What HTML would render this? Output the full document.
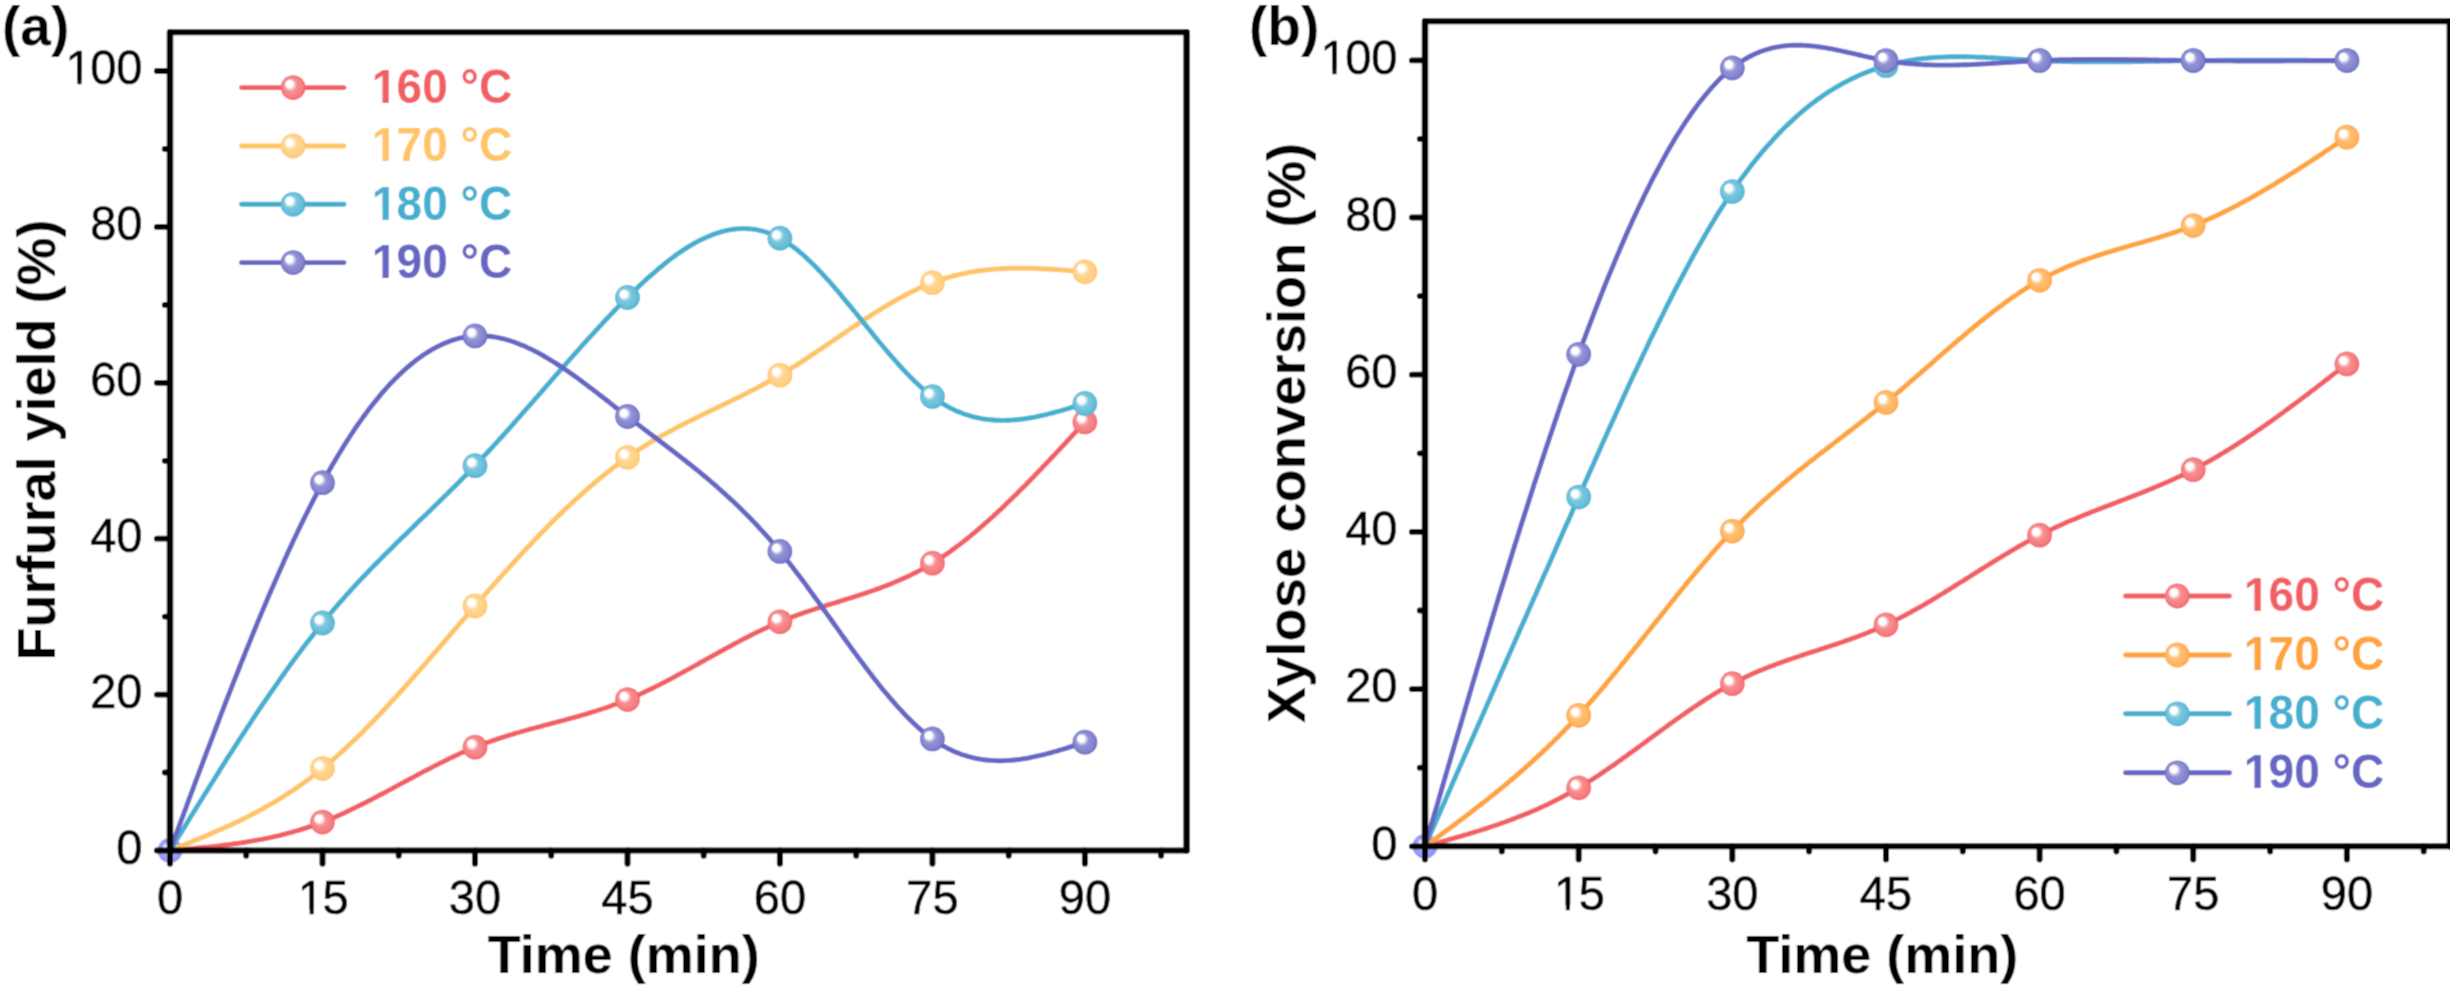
<!DOCTYPE html><html><head><meta charset="utf-8"><style>html,body{margin:0;padding:0;background:#fff;}svg{display:block}</style></head><body><div id="wrap">
<svg width="2450" height="987" viewBox="0 0 2450 987" font-family='"Liberation Sans", sans-serif'>
<filter id="bl" x="0" y="0" width="2450" height="987" filterUnits="userSpaceOnUse"><feConvolveMatrix order="3" kernelMatrix="0.0437 0.1216 0.0437 0.1216 0.3387 0.1216 0.0437 0.1216 0.0437" edgeMode="duplicate"/></filter><g filter="url(#bl)">
<rect width="2450" height="987" fill="#fff"/>
<defs>
<radialGradient id="gAred" cx="50%" cy="50%" r="50%" fx="29%" fy="30%"><stop offset="0" stop-color="#fff"/><stop offset="0.28" stop-color="#fff"/><stop offset="0.5" stop-color="#f68f92"/><stop offset="0.86" stop-color="#f47c7f"/><stop offset="1" stop-color="#F25F63"/></radialGradient>
<radialGradient id="gAyel" cx="50%" cy="50%" r="50%" fx="29%" fy="30%"><stop offset="0" stop-color="#fff"/><stop offset="0.28" stop-color="#fff"/><stop offset="0.5" stop-color="#ffd694"/><stop offset="0.86" stop-color="#ffcf82"/><stop offset="1" stop-color="#FFC466"/></radialGradient>
<radialGradient id="gAcya" cx="50%" cy="50%" r="50%" fx="29%" fy="30%"><stop offset="0" stop-color="#fff"/><stop offset="0.28" stop-color="#fff"/><stop offset="0.5" stop-color="#7dc7de"/><stop offset="0.86" stop-color="#66bdd8"/><stop offset="1" stop-color="#45AFD0"/></radialGradient>
<radialGradient id="gApur" cx="50%" cy="50%" r="50%" fx="29%" fy="30%"><stop offset="0" stop-color="#fff"/><stop offset="0.28" stop-color="#fff"/><stop offset="0.5" stop-color="#9494d6"/><stop offset="0.86" stop-color="#8282cf"/><stop offset="1" stop-color="#6666C4"/></radialGradient>
<radialGradient id="gBred" cx="50%" cy="50%" r="50%" fx="29%" fy="30%"><stop offset="0" stop-color="#fff"/><stop offset="0.28" stop-color="#fff"/><stop offset="0.5" stop-color="#f68f92"/><stop offset="0.86" stop-color="#f47c7f"/><stop offset="1" stop-color="#F25F63"/></radialGradient>
<radialGradient id="gByel" cx="50%" cy="50%" r="50%" fx="29%" fy="30%"><stop offset="0" stop-color="#fff"/><stop offset="0.28" stop-color="#fff"/><stop offset="0.5" stop-color="#ffbf75"/><stop offset="0.86" stop-color="#ffb45d"/><stop offset="1" stop-color="#FFA33A"/></radialGradient>
<radialGradient id="gBcya" cx="50%" cy="50%" r="50%" fx="29%" fy="30%"><stop offset="0" stop-color="#fff"/><stop offset="0.28" stop-color="#fff"/><stop offset="0.5" stop-color="#7dc7de"/><stop offset="0.86" stop-color="#66bdd8"/><stop offset="1" stop-color="#45AFD0"/></radialGradient>
<radialGradient id="gBpur" cx="50%" cy="50%" r="50%" fx="29%" fy="30%"><stop offset="0" stop-color="#fff"/><stop offset="0.28" stop-color="#fff"/><stop offset="0.5" stop-color="#9494d6"/><stop offset="0.86" stop-color="#8282cf"/><stop offset="1" stop-color="#6666C4"/></radialGradient>
<radialGradient id="gorig" cx="50%" cy="50%" r="50%" fx="36%" fy="35%"><stop offset="0" stop-color="#fff"/><stop offset="0.22" stop-color="#fff"/><stop offset="0.5" stop-color="#a4a6fa"/><stop offset="1" stop-color="#8e90f2"/></radialGradient>
</defs>
<circle cx="170.0" cy="850.5" r="12.4" fill="url(#gorig)"/>
<path d="M 170.0 850.5 L 172.3 850.3 L 174.6 850.1 L 176.9 849.9 L 179.2 849.7 L 181.5 849.5 L 183.8 849.3 L 186.1 849.1 L 188.3 848.9 L 190.6 848.7 L 192.9 848.5 L 195.2 848.2 L 197.5 848.0 L 199.8 847.8 L 202.1 847.6 L 204.4 847.3 L 206.7 847.1 L 209.0 846.9 L 211.3 846.6 L 213.6 846.4 L 215.9 846.1 L 218.2 845.9 L 220.4 845.6 L 222.7 845.3 L 225.0 845.0 L 227.3 844.7 L 229.6 844.4 L 231.9 844.1 L 234.2 843.8 L 236.5 843.5 L 238.8 843.2 L 241.1 842.8 L 243.4 842.5 L 245.7 842.1 L 248.0 841.7 L 250.3 841.3 L 252.5 840.9 L 254.8 840.5 L 257.1 840.1 L 259.4 839.7 L 261.7 839.3 L 264.0 838.8 L 266.3 838.3 L 268.6 837.9 L 270.9 837.4 L 273.2 836.9 L 275.5 836.3 L 277.8 835.8 L 280.1 835.3 L 282.4 834.7 L 284.6 834.1 L 286.9 833.5 L 289.2 832.9 L 291.5 832.3 L 293.8 831.6 L 296.1 831.0 L 298.4 830.3 L 300.7 829.6 L 303.0 828.9 L 305.3 828.2 L 307.6 827.4 L 309.9 826.7 L 312.2 825.9 L 314.5 825.1 L 316.8 824.2 L 319.0 823.4 L 321.3 822.5 L 323.6 821.7 L 325.9 820.8 L 328.2 819.8 L 330.5 818.9 L 332.8 817.9 L 335.1 816.9 L 337.4 815.9 L 339.7 814.9 L 342.0 813.9 L 344.3 812.9 L 346.6 811.8 L 348.9 810.7 L 351.1 809.6 L 353.4 808.5 L 355.7 807.4 L 358.0 806.3 L 360.3 805.2 L 362.6 804.0 L 364.9 802.8 L 367.2 801.7 L 369.5 800.5 L 371.8 799.3 L 374.1 798.1 L 376.4 796.9 L 378.7 795.7 L 381.0 794.5 L 383.2 793.3 L 385.5 792.1 L 387.8 790.8 L 390.1 789.6 L 392.4 788.4 L 394.7 787.1 L 397.0 785.9 L 399.3 784.7 L 401.6 783.4 L 403.9 782.2 L 406.2 781.0 L 408.5 779.7 L 410.8 778.5 L 413.1 777.3 L 415.3 776.0 L 417.6 774.8 L 419.9 773.6 L 422.2 772.4 L 424.5 771.2 L 426.8 770.0 L 429.1 768.8 L 431.4 767.6 L 433.7 766.4 L 436.0 765.2 L 438.3 764.1 L 440.6 762.9 L 442.9 761.8 L 445.2 760.6 L 447.5 759.5 L 449.7 758.4 L 452.0 757.3 L 454.3 756.2 L 456.6 755.2 L 458.9 754.1 L 461.2 753.1 L 463.5 752.1 L 465.8 751.0 L 468.1 750.1 L 470.4 749.1 L 472.7 748.1 L 475.0 747.2 L 477.3 746.3 L 479.6 745.4 L 481.8 744.5 L 484.1 743.7 L 486.4 742.8 L 488.7 742.0 L 491.0 741.2 L 493.3 740.4 L 495.6 739.6 L 497.9 738.8 L 500.2 738.1 L 502.5 737.3 L 504.8 736.6 L 507.1 735.9 L 509.4 735.2 L 511.7 734.5 L 513.9 733.8 L 516.2 733.1 L 518.5 732.5 L 520.8 731.8 L 523.1 731.2 L 525.4 730.5 L 527.7 729.9 L 530.0 729.2 L 532.3 728.6 L 534.6 728.0 L 536.9 727.4 L 539.2 726.8 L 541.5 726.2 L 543.8 725.5 L 546.0 724.9 L 548.3 724.3 L 550.6 723.7 L 552.9 723.1 L 555.2 722.5 L 557.5 721.9 L 559.8 721.3 L 562.1 720.7 L 564.4 720.1 L 566.7 719.4 L 569.0 718.8 L 571.3 718.2 L 573.6 717.6 L 575.9 716.9 L 578.2 716.3 L 580.4 715.6 L 582.7 714.9 L 585.0 714.3 L 587.3 713.6 L 589.6 712.9 L 591.9 712.2 L 594.2 711.5 L 596.5 710.8 L 598.8 710.0 L 601.1 709.3 L 603.4 708.5 L 605.7 707.8 L 608.0 707.0 L 610.3 706.2 L 612.5 705.3 L 614.8 704.5 L 617.1 703.7 L 619.4 702.8 L 621.7 701.9 L 624.0 701.0 L 626.3 700.1 L 628.6 699.1 L 630.9 698.2 L 633.2 697.2 L 635.5 696.2 L 637.8 695.2 L 640.1 694.1 L 642.4 693.1 L 644.6 692.0 L 646.9 690.9 L 649.2 689.8 L 651.5 688.7 L 653.8 687.6 L 656.1 686.4 L 658.4 685.3 L 660.7 684.1 L 663.0 682.9 L 665.3 681.7 L 667.6 680.5 L 669.9 679.3 L 672.2 678.1 L 674.5 676.9 L 676.7 675.6 L 679.0 674.4 L 681.3 673.2 L 683.6 671.9 L 685.9 670.6 L 688.2 669.4 L 690.5 668.1 L 692.8 666.8 L 695.1 665.6 L 697.4 664.3 L 699.7 663.0 L 702.0 661.7 L 704.3 660.5 L 706.6 659.2 L 708.9 657.9 L 711.1 656.6 L 713.4 655.3 L 715.7 654.1 L 718.0 652.8 L 720.3 651.5 L 722.6 650.3 L 724.9 649.0 L 727.2 647.8 L 729.5 646.5 L 731.8 645.3 L 734.1 644.0 L 736.4 642.8 L 738.7 641.6 L 741.0 640.4 L 743.2 639.2 L 745.5 638.0 L 747.8 636.8 L 750.1 635.7 L 752.4 634.5 L 754.7 633.4 L 757.0 632.2 L 759.3 631.1 L 761.6 630.0 L 763.9 628.9 L 766.2 627.9 L 768.5 626.8 L 770.8 625.8 L 773.1 624.7 L 775.3 623.7 L 777.6 622.8 L 779.9 621.8 L 782.2 620.9 L 784.5 619.9 L 786.8 619.0 L 789.1 618.1 L 791.4 617.3 L 793.7 616.4 L 796.0 615.6 L 798.3 614.7 L 800.6 613.9 L 802.9 613.1 L 805.2 612.3 L 807.4 611.5 L 809.7 610.8 L 812.0 610.0 L 814.3 609.3 L 816.6 608.5 L 818.9 607.8 L 821.2 607.1 L 823.5 606.3 L 825.8 605.6 L 828.1 604.9 L 830.4 604.2 L 832.7 603.5 L 835.0 602.8 L 837.3 602.1 L 839.6 601.4 L 841.8 600.7 L 844.1 599.9 L 846.4 599.2 L 848.7 598.5 L 851.0 597.8 L 853.3 597.1 L 855.6 596.3 L 857.9 595.6 L 860.2 594.9 L 862.5 594.1 L 864.8 593.3 L 867.1 592.6 L 869.4 591.8 L 871.7 591.0 L 873.9 590.2 L 876.2 589.4 L 878.5 588.6 L 880.8 587.7 L 883.1 586.8 L 885.4 586.0 L 887.7 585.1 L 890.0 584.2 L 892.3 583.2 L 894.6 582.3 L 896.9 581.3 L 899.2 580.3 L 901.5 579.3 L 903.8 578.3 L 906.0 577.2 L 908.3 576.2 L 910.6 575.1 L 912.9 573.9 L 915.2 572.8 L 917.5 571.6 L 919.8 570.4 L 922.1 569.1 L 924.4 567.9 L 926.7 566.6 L 929.0 565.3 L 931.3 563.9 L 933.6 562.5 L 935.9 561.1 L 938.1 559.6 L 940.4 558.1 L 942.7 556.6 L 945.0 555.1 L 947.3 553.5 L 949.6 551.9 L 951.9 550.2 L 954.2 548.5 L 956.5 546.8 L 958.8 545.1 L 961.1 543.4 L 963.4 541.6 L 965.7 539.8 L 968.0 537.9 L 970.3 536.1 L 972.5 534.2 L 974.8 532.3 L 977.1 530.4 L 979.4 528.4 L 981.7 526.4 L 984.0 524.4 L 986.3 522.4 L 988.6 520.4 L 990.9 518.3 L 993.2 516.2 L 995.5 514.1 L 997.8 512.0 L 1000.1 509.9 L 1002.4 507.7 L 1004.6 505.5 L 1006.9 503.3 L 1009.2 501.1 L 1011.5 498.9 L 1013.8 496.6 L 1016.1 494.4 L 1018.4 492.1 L 1020.7 489.8 L 1023.0 487.5 L 1025.3 485.2 L 1027.6 482.9 L 1029.9 480.5 L 1032.2 478.2 L 1034.5 475.8 L 1036.7 473.4 L 1039.0 471.0 L 1041.3 468.7 L 1043.6 466.2 L 1045.9 463.8 L 1048.2 461.4 L 1050.5 459.0 L 1052.8 456.5 L 1055.1 454.1 L 1057.4 451.6 L 1059.7 449.2 L 1062.0 446.7 L 1064.3 444.3 L 1066.6 441.8 L 1068.8 439.3 L 1071.1 436.8 L 1073.4 434.3 L 1075.7 431.9 L 1078.0 429.4 L 1080.3 426.9 L 1082.6 424.4 L 1084.9 421.9" fill="none" stroke="#F25F63" stroke-width="4.9" stroke-linejoin="round" stroke-linecap="round"/>
<circle cx="322.5" cy="822.1" r="12.4" fill="url(#gAred)"/>
<circle cx="475.0" cy="747.2" r="12.4" fill="url(#gAred)"/>
<circle cx="627.5" cy="699.6" r="12.4" fill="url(#gAred)"/>
<circle cx="779.9" cy="621.8" r="12.4" fill="url(#gAred)"/>
<circle cx="932.4" cy="563.2" r="12.4" fill="url(#gAred)"/>
<circle cx="1084.9" cy="421.9" r="12.4" fill="url(#gAred)"/>
<path d="M 170.0 850.5 L 172.3 849.6 L 174.6 848.7 L 176.9 847.8 L 179.2 846.8 L 181.5 845.9 L 183.8 845.0 L 186.1 844.1 L 188.3 843.1 L 190.6 842.2 L 192.9 841.3 L 195.2 840.3 L 197.5 839.4 L 199.8 838.4 L 202.1 837.5 L 204.4 836.5 L 206.7 835.6 L 209.0 834.6 L 211.3 833.6 L 213.6 832.6 L 215.9 831.6 L 218.2 830.6 L 220.4 829.6 L 222.7 828.6 L 225.0 827.5 L 227.3 826.5 L 229.6 825.4 L 231.9 824.4 L 234.2 823.3 L 236.5 822.2 L 238.8 821.1 L 241.1 820.0 L 243.4 818.9 L 245.7 817.7 L 248.0 816.6 L 250.3 815.4 L 252.5 814.2 L 254.8 813.0 L 257.1 811.8 L 259.4 810.5 L 261.7 809.3 L 264.0 808.0 L 266.3 806.7 L 268.6 805.4 L 270.9 804.1 L 273.2 802.8 L 275.5 801.4 L 277.8 800.0 L 280.1 798.6 L 282.4 797.2 L 284.6 795.7 L 286.9 794.3 L 289.2 792.8 L 291.5 791.3 L 293.8 789.8 L 296.1 788.2 L 298.4 786.6 L 300.7 785.0 L 303.0 783.4 L 305.3 781.7 L 307.6 780.1 L 309.9 778.4 L 312.2 776.6 L 314.5 774.9 L 316.8 773.1 L 319.0 771.3 L 321.3 769.4 L 323.6 767.6 L 325.9 765.7 L 328.2 763.7 L 330.5 761.8 L 332.8 759.8 L 335.1 757.8 L 337.4 755.8 L 339.7 753.7 L 342.0 751.6 L 344.3 749.5 L 346.6 747.4 L 348.9 745.2 L 351.1 743.1 L 353.4 740.9 L 355.7 738.7 L 358.0 736.4 L 360.3 734.2 L 362.6 731.9 L 364.9 729.6 L 367.2 727.3 L 369.5 724.9 L 371.8 722.6 L 374.1 720.2 L 376.4 717.8 L 378.7 715.4 L 381.0 713.0 L 383.2 710.5 L 385.5 708.1 L 387.8 705.6 L 390.1 703.1 L 392.4 700.6 L 394.7 698.1 L 397.0 695.6 L 399.3 693.0 L 401.6 690.5 L 403.9 687.9 L 406.2 685.4 L 408.5 682.8 L 410.8 680.2 L 413.1 677.6 L 415.3 675.0 L 417.6 672.4 L 419.9 669.8 L 422.2 667.1 L 424.5 664.5 L 426.8 661.9 L 429.1 659.2 L 431.4 656.6 L 433.7 653.9 L 436.0 651.3 L 438.3 648.6 L 440.6 645.9 L 442.9 643.3 L 445.2 640.6 L 447.5 637.9 L 449.7 635.3 L 452.0 632.6 L 454.3 629.9 L 456.6 627.3 L 458.9 624.6 L 461.2 621.9 L 463.5 619.3 L 465.8 616.6 L 468.1 613.9 L 470.4 611.3 L 472.7 608.6 L 475.0 606.0 L 477.3 603.4 L 479.6 600.7 L 481.8 598.1 L 484.1 595.5 L 486.4 592.9 L 488.7 590.3 L 491.0 587.7 L 493.3 585.1 L 495.6 582.5 L 497.9 579.9 L 500.2 577.3 L 502.5 574.8 L 504.8 572.2 L 507.1 569.7 L 509.4 567.2 L 511.7 564.6 L 513.9 562.1 L 516.2 559.6 L 518.5 557.1 L 520.8 554.7 L 523.1 552.2 L 525.4 549.7 L 527.7 547.3 L 530.0 544.9 L 532.3 542.5 L 534.6 540.1 L 536.9 537.7 L 539.2 535.3 L 541.5 532.9 L 543.8 530.6 L 546.0 528.2 L 548.3 525.9 L 550.6 523.6 L 552.9 521.3 L 555.2 519.1 L 557.5 516.8 L 559.8 514.6 L 562.1 512.3 L 564.4 510.1 L 566.7 507.9 L 569.0 505.8 L 571.3 503.6 L 573.6 501.5 L 575.9 499.4 L 578.2 497.3 L 580.4 495.2 L 582.7 493.1 L 585.0 491.1 L 587.3 489.1 L 589.6 487.1 L 591.9 485.1 L 594.2 483.1 L 596.5 481.2 L 598.8 479.3 L 601.1 477.4 L 603.4 475.5 L 605.7 473.7 L 608.0 471.8 L 610.3 470.0 L 612.5 468.3 L 614.8 466.5 L 617.1 464.8 L 619.4 463.1 L 621.7 461.4 L 624.0 459.7 L 626.3 458.1 L 628.6 456.5 L 630.9 454.9 L 633.2 453.4 L 635.5 451.8 L 637.8 450.3 L 640.1 448.8 L 642.4 447.4 L 644.6 445.9 L 646.9 444.5 L 649.2 443.1 L 651.5 441.7 L 653.8 440.4 L 656.1 439.0 L 658.4 437.7 L 660.7 436.4 L 663.0 435.1 L 665.3 433.8 L 667.6 432.6 L 669.9 431.3 L 672.2 430.1 L 674.5 428.8 L 676.7 427.6 L 679.0 426.4 L 681.3 425.3 L 683.6 424.1 L 685.9 422.9 L 688.2 421.7 L 690.5 420.6 L 692.8 419.5 L 695.1 418.3 L 697.4 417.2 L 699.7 416.1 L 702.0 414.9 L 704.3 413.8 L 706.6 412.7 L 708.9 411.6 L 711.1 410.5 L 713.4 409.4 L 715.7 408.3 L 718.0 407.2 L 720.3 406.1 L 722.6 405.0 L 724.9 403.9 L 727.2 402.8 L 729.5 401.7 L 731.8 400.6 L 734.1 399.4 L 736.4 398.3 L 738.7 397.2 L 741.0 396.1 L 743.2 394.9 L 745.5 393.8 L 747.8 392.6 L 750.1 391.4 L 752.4 390.3 L 754.7 389.1 L 757.0 387.9 L 759.3 386.7 L 761.6 385.5 L 763.9 384.2 L 766.2 383.0 L 768.5 381.7 L 770.8 380.5 L 773.1 379.2 L 775.3 377.9 L 777.6 376.5 L 779.9 375.2 L 782.2 373.8 L 784.5 372.5 L 786.8 371.1 L 789.1 369.7 L 791.4 368.2 L 793.7 366.8 L 796.0 365.4 L 798.3 363.9 L 800.6 362.4 L 802.9 360.9 L 805.2 359.4 L 807.4 357.9 L 809.7 356.4 L 812.0 354.9 L 814.3 353.4 L 816.6 351.8 L 818.9 350.3 L 821.2 348.7 L 823.5 347.2 L 825.8 345.6 L 828.1 344.1 L 830.4 342.5 L 832.7 341.0 L 835.0 339.4 L 837.3 337.8 L 839.6 336.3 L 841.8 334.7 L 844.1 333.1 L 846.4 331.6 L 848.7 330.0 L 851.0 328.5 L 853.3 327.0 L 855.6 325.4 L 857.9 323.9 L 860.2 322.4 L 862.5 320.9 L 864.8 319.4 L 867.1 317.9 L 869.4 316.4 L 871.7 314.9 L 873.9 313.4 L 876.2 312.0 L 878.5 310.6 L 880.8 309.2 L 883.1 307.7 L 885.4 306.4 L 887.7 305.0 L 890.0 303.6 L 892.3 302.3 L 894.6 301.0 L 896.9 299.7 L 899.2 298.4 L 901.5 297.2 L 903.8 295.9 L 906.0 294.7 L 908.3 293.5 L 910.6 292.4 L 912.9 291.2 L 915.2 290.1 L 917.5 289.0 L 919.8 288.0 L 922.1 287.0 L 924.4 286.0 L 926.7 285.0 L 929.0 284.1 L 931.3 283.1 L 933.6 282.3 L 935.9 281.4 L 938.1 280.6 L 940.4 279.8 L 942.7 279.1 L 945.0 278.3 L 947.3 277.7 L 949.6 277.0 L 951.9 276.4 L 954.2 275.7 L 956.5 275.2 L 958.8 274.6 L 961.1 274.1 L 963.4 273.6 L 965.7 273.1 L 968.0 272.7 L 970.3 272.2 L 972.5 271.8 L 974.8 271.5 L 977.1 271.1 L 979.4 270.8 L 981.7 270.5 L 984.0 270.2 L 986.3 269.9 L 988.6 269.7 L 990.9 269.5 L 993.2 269.3 L 995.5 269.1 L 997.8 268.9 L 1000.1 268.8 L 1002.4 268.6 L 1004.6 268.5 L 1006.9 268.4 L 1009.2 268.3 L 1011.5 268.3 L 1013.8 268.2 L 1016.1 268.2 L 1018.4 268.2 L 1020.7 268.2 L 1023.0 268.2 L 1025.3 268.2 L 1027.6 268.2 L 1029.9 268.3 L 1032.2 268.3 L 1034.5 268.4 L 1036.7 268.5 L 1039.0 268.6 L 1041.3 268.7 L 1043.6 268.8 L 1045.9 268.9 L 1048.2 269.0 L 1050.5 269.2 L 1052.8 269.3 L 1055.1 269.5 L 1057.4 269.6 L 1059.7 269.8 L 1062.0 270.0 L 1064.3 270.1 L 1066.6 270.3 L 1068.8 270.5 L 1071.1 270.7 L 1073.4 270.8 L 1075.7 271.0 L 1078.0 271.2 L 1080.3 271.4 L 1082.6 271.6 L 1084.9 271.8" fill="none" stroke="#FFC466" stroke-width="4.9" stroke-linejoin="round" stroke-linecap="round"/>
<circle cx="322.5" cy="768.5" r="12.4" fill="url(#gAyel)"/>
<circle cx="475.0" cy="606.0" r="12.4" fill="url(#gAyel)"/>
<circle cx="627.5" cy="457.3" r="12.4" fill="url(#gAyel)"/>
<circle cx="779.9" cy="375.2" r="12.4" fill="url(#gAyel)"/>
<circle cx="932.4" cy="282.7" r="12.4" fill="url(#gAyel)"/>
<circle cx="1084.9" cy="271.8" r="12.4" fill="url(#gAyel)"/>
<path d="M 170.0 850.5 L 172.3 846.8 L 174.6 843.0 L 176.9 839.3 L 179.2 835.6 L 181.5 831.9 L 183.8 828.2 L 186.1 824.4 L 188.3 820.7 L 190.6 817.0 L 192.9 813.3 L 195.2 809.6 L 197.5 805.9 L 199.8 802.2 L 202.1 798.5 L 204.4 794.8 L 206.7 791.1 L 209.0 787.5 L 211.3 783.8 L 213.6 780.2 L 215.9 776.5 L 218.2 772.9 L 220.4 769.2 L 222.7 765.6 L 225.0 762.0 L 227.3 758.4 L 229.6 754.8 L 231.9 751.2 L 234.2 747.7 L 236.5 744.1 L 238.8 740.5 L 241.1 737.0 L 243.4 733.5 L 245.7 730.0 L 248.0 726.5 L 250.3 723.0 L 252.5 719.5 L 254.8 716.1 L 257.1 712.7 L 259.4 709.2 L 261.7 705.8 L 264.0 702.4 L 266.3 699.1 L 268.6 695.7 L 270.9 692.4 L 273.2 689.1 L 275.5 685.8 L 277.8 682.5 L 280.1 679.2 L 282.4 676.0 L 284.6 672.8 L 286.9 669.6 L 289.2 666.4 L 291.5 663.3 L 293.8 660.1 L 296.1 657.0 L 298.4 653.9 L 300.7 650.9 L 303.0 647.8 L 305.3 644.8 L 307.6 641.8 L 309.9 638.9 L 312.2 635.9 L 314.5 633.0 L 316.8 630.1 L 319.0 627.2 L 321.3 624.4 L 323.6 621.6 L 325.9 618.8 L 328.2 616.1 L 330.5 613.3 L 332.8 610.6 L 335.1 608.0 L 337.4 605.3 L 339.7 602.7 L 342.0 600.1 L 344.3 597.5 L 346.6 594.9 L 348.9 592.4 L 351.1 589.8 L 353.4 587.3 L 355.7 584.9 L 358.0 582.4 L 360.3 579.9 L 362.6 577.5 L 364.9 575.1 L 367.2 572.7 L 369.5 570.3 L 371.8 567.9 L 374.1 565.6 L 376.4 563.2 L 378.7 560.9 L 381.0 558.6 L 383.2 556.3 L 385.5 554.0 L 387.8 551.7 L 390.1 549.4 L 392.4 547.2 L 394.7 544.9 L 397.0 542.6 L 399.3 540.4 L 401.6 538.1 L 403.9 535.9 L 406.2 533.7 L 408.5 531.4 L 410.8 529.2 L 413.1 527.0 L 415.3 524.8 L 417.6 522.6 L 419.9 520.3 L 422.2 518.1 L 424.5 515.9 L 426.8 513.7 L 429.1 511.5 L 431.4 509.3 L 433.7 507.0 L 436.0 504.8 L 438.3 502.6 L 440.6 500.3 L 442.9 498.1 L 445.2 495.8 L 447.5 493.6 L 449.7 491.3 L 452.0 489.0 L 454.3 486.7 L 456.6 484.5 L 458.9 482.2 L 461.2 479.8 L 463.5 477.5 L 465.8 475.2 L 468.1 472.8 L 470.4 470.5 L 472.7 468.1 L 475.0 465.7 L 477.3 463.3 L 479.6 460.9 L 481.8 458.4 L 484.1 456.0 L 486.4 453.5 L 488.7 451.0 L 491.0 448.6 L 493.3 446.1 L 495.6 443.6 L 497.9 441.0 L 500.2 438.5 L 502.5 436.0 L 504.8 433.4 L 507.1 430.8 L 509.4 428.3 L 511.7 425.7 L 513.9 423.1 L 516.2 420.5 L 518.5 417.9 L 520.8 415.3 L 523.1 412.7 L 525.4 410.1 L 527.7 407.5 L 530.0 404.9 L 532.3 402.3 L 534.6 399.7 L 536.9 397.0 L 539.2 394.4 L 541.5 391.8 L 543.8 389.1 L 546.0 386.5 L 548.3 383.9 L 550.6 381.3 L 552.9 378.6 L 555.2 376.0 L 557.5 373.4 L 559.8 370.8 L 562.1 368.2 L 564.4 365.6 L 566.7 363.0 L 569.0 360.4 L 571.3 357.8 L 573.6 355.2 L 575.9 352.6 L 578.2 350.0 L 580.4 347.5 L 582.7 344.9 L 585.0 342.4 L 587.3 339.8 L 589.6 337.3 L 591.9 334.8 L 594.2 332.3 L 596.5 329.8 L 598.8 327.3 L 601.1 324.8 L 603.4 322.4 L 605.7 319.9 L 608.0 317.5 L 610.3 315.1 L 612.5 312.7 L 614.8 310.3 L 617.1 307.9 L 619.4 305.6 L 621.7 303.3 L 624.0 300.9 L 626.3 298.6 L 628.6 296.4 L 630.9 294.1 L 633.2 291.9 L 635.5 289.6 L 637.8 287.4 L 640.1 285.3 L 642.4 283.1 L 644.6 281.0 L 646.9 278.9 L 649.2 276.8 L 651.5 274.8 L 653.8 272.8 L 656.1 270.8 L 658.4 268.9 L 660.7 267.0 L 663.0 265.1 L 665.3 263.2 L 667.6 261.4 L 669.9 259.6 L 672.2 257.9 L 674.5 256.2 L 676.7 254.6 L 679.0 252.9 L 681.3 251.4 L 683.6 249.8 L 685.9 248.4 L 688.2 246.9 L 690.5 245.5 L 692.8 244.2 L 695.1 242.9 L 697.4 241.6 L 699.7 240.4 L 702.0 239.3 L 704.3 238.2 L 706.6 237.1 L 708.9 236.2 L 711.1 235.2 L 713.4 234.4 L 715.7 233.5 L 718.0 232.8 L 720.3 232.1 L 722.6 231.4 L 724.9 230.9 L 727.2 230.3 L 729.5 229.9 L 731.8 229.5 L 734.1 229.2 L 736.4 228.9 L 738.7 228.8 L 741.0 228.6 L 743.2 228.6 L 745.5 228.6 L 747.8 228.7 L 750.1 228.9 L 752.4 229.1 L 754.7 229.4 L 757.0 229.8 L 759.3 230.3 L 761.6 230.9 L 763.9 231.5 L 766.2 232.2 L 768.5 233.0 L 770.8 233.9 L 773.1 234.8 L 775.3 235.9 L 777.6 237.0 L 779.9 238.2 L 782.2 239.5 L 784.5 240.9 L 786.8 242.4 L 789.1 243.9 L 791.4 245.5 L 793.7 247.2 L 796.0 249.0 L 798.3 250.8 L 800.6 252.8 L 802.9 254.7 L 805.2 256.8 L 807.4 258.9 L 809.7 261.0 L 812.0 263.2 L 814.3 265.5 L 816.6 267.8 L 818.9 270.2 L 821.2 272.6 L 823.5 275.1 L 825.8 277.6 L 828.1 280.1 L 830.4 282.7 L 832.7 285.3 L 835.0 288.0 L 837.3 290.6 L 839.6 293.3 L 841.8 296.1 L 844.1 298.8 L 846.4 301.6 L 848.7 304.4 L 851.0 307.1 L 853.3 310.0 L 855.6 312.8 L 857.9 315.6 L 860.2 318.4 L 862.5 321.3 L 864.8 324.1 L 867.1 327.0 L 869.4 329.8 L 871.7 332.6 L 873.9 335.4 L 876.2 338.2 L 878.5 341.0 L 880.8 343.8 L 883.1 346.5 L 885.4 349.3 L 887.7 352.0 L 890.0 354.7 L 892.3 357.3 L 894.6 359.9 L 896.9 362.5 L 899.2 365.1 L 901.5 367.6 L 903.8 370.1 L 906.0 372.5 L 908.3 374.9 L 910.6 377.2 L 912.9 379.5 L 915.2 381.8 L 917.5 383.9 L 919.8 386.1 L 922.1 388.1 L 924.4 390.1 L 926.7 392.1 L 929.0 393.9 L 931.3 395.7 L 933.6 397.5 L 935.9 399.1 L 938.1 400.7 L 940.4 402.2 L 942.7 403.6 L 945.0 405.0 L 947.3 406.3 L 949.6 407.6 L 951.9 408.7 L 954.2 409.9 L 956.5 410.9 L 958.8 411.9 L 961.1 412.8 L 963.4 413.7 L 965.7 414.5 L 968.0 415.2 L 970.3 415.9 L 972.5 416.6 L 974.8 417.2 L 977.1 417.7 L 979.4 418.2 L 981.7 418.6 L 984.0 419.0 L 986.3 419.3 L 988.6 419.6 L 990.9 419.8 L 993.2 420.0 L 995.5 420.2 L 997.8 420.3 L 1000.1 420.4 L 1002.4 420.4 L 1004.6 420.4 L 1006.9 420.3 L 1009.2 420.2 L 1011.5 420.1 L 1013.8 419.9 L 1016.1 419.7 L 1018.4 419.5 L 1020.7 419.2 L 1023.0 419.0 L 1025.3 418.6 L 1027.6 418.3 L 1029.9 417.9 L 1032.2 417.5 L 1034.5 417.1 L 1036.7 416.6 L 1039.0 416.1 L 1041.3 415.6 L 1043.6 415.1 L 1045.9 414.6 L 1048.2 414.0 L 1050.5 413.4 L 1052.8 412.8 L 1055.1 412.2 L 1057.4 411.6 L 1059.7 411.0 L 1062.0 410.3 L 1064.3 409.7 L 1066.6 409.0 L 1068.8 408.3 L 1071.1 407.6 L 1073.4 406.9 L 1075.7 406.2 L 1078.0 405.5 L 1080.3 404.8 L 1082.6 404.1 L 1084.9 403.4" fill="none" stroke="#45AFD0" stroke-width="4.9" stroke-linejoin="round" stroke-linecap="round"/>
<circle cx="322.5" cy="623.0" r="12.4" fill="url(#gAcya)"/>
<circle cx="475.0" cy="465.7" r="12.4" fill="url(#gAcya)"/>
<circle cx="627.5" cy="297.5" r="12.4" fill="url(#gAcya)"/>
<circle cx="779.9" cy="238.2" r="12.4" fill="url(#gAcya)"/>
<circle cx="932.4" cy="396.6" r="12.4" fill="url(#gAcya)"/>
<circle cx="1084.9" cy="403.4" r="12.4" fill="url(#gAcya)"/>
<path d="M 170.0 850.5 L 172.3 844.3 L 174.6 838.1 L 176.9 832.0 L 179.2 825.8 L 181.5 819.6 L 183.8 813.4 L 186.1 807.3 L 188.3 801.1 L 190.6 795.0 L 192.9 788.8 L 195.2 782.7 L 197.5 776.5 L 199.8 770.4 L 202.1 764.3 L 204.4 758.2 L 206.7 752.2 L 209.0 746.1 L 211.3 740.1 L 213.6 734.0 L 215.9 728.0 L 218.2 722.0 L 220.4 716.0 L 222.7 710.1 L 225.0 704.1 L 227.3 698.2 L 229.6 692.3 L 231.9 686.4 L 234.2 680.6 L 236.5 674.8 L 238.8 669.0 L 241.1 663.2 L 243.4 657.5 L 245.7 651.7 L 248.0 646.1 L 250.3 640.4 L 252.5 634.8 L 254.8 629.2 L 257.1 623.6 L 259.4 618.1 L 261.7 612.6 L 264.0 607.1 L 266.3 601.7 L 268.6 596.3 L 270.9 591.0 L 273.2 585.7 L 275.5 580.4 L 277.8 575.2 L 280.1 570.0 L 282.4 564.9 L 284.6 559.8 L 286.9 554.7 L 289.2 549.7 L 291.5 544.7 L 293.8 539.8 L 296.1 535.0 L 298.4 530.1 L 300.7 525.4 L 303.0 520.6 L 305.3 516.0 L 307.6 511.4 L 309.9 506.8 L 312.2 502.3 L 314.5 497.8 L 316.8 493.4 L 319.0 489.1 L 321.3 484.8 L 323.6 480.6 L 325.9 476.4 L 328.2 472.3 L 330.5 468.3 L 332.8 464.3 L 335.1 460.4 L 337.4 456.5 L 339.7 452.7 L 342.0 448.9 L 344.3 445.2 L 346.6 441.6 L 348.9 438.0 L 351.1 434.5 L 353.4 431.1 L 355.7 427.7 L 358.0 424.3 L 360.3 421.1 L 362.6 417.9 L 364.9 414.7 L 367.2 411.6 L 369.5 408.6 L 371.8 405.6 L 374.1 402.7 L 376.4 399.9 L 378.7 397.1 L 381.0 394.3 L 383.2 391.7 L 385.5 389.1 L 387.8 386.5 L 390.1 384.0 L 392.4 381.6 L 394.7 379.3 L 397.0 377.0 L 399.3 374.7 L 401.6 372.6 L 403.9 370.4 L 406.2 368.4 L 408.5 366.4 L 410.8 364.5 L 413.1 362.6 L 415.3 360.8 L 417.6 359.1 L 419.9 357.4 L 422.2 355.8 L 424.5 354.2 L 426.8 352.7 L 429.1 351.3 L 431.4 349.9 L 433.7 348.6 L 436.0 347.4 L 438.3 346.2 L 440.6 345.1 L 442.9 344.0 L 445.2 343.0 L 447.5 342.1 L 449.7 341.2 L 452.0 340.4 L 454.3 339.7 L 456.6 339.0 L 458.9 338.4 L 461.2 337.8 L 463.5 337.4 L 465.8 336.9 L 468.1 336.6 L 470.4 336.3 L 472.7 336.1 L 475.0 335.9 L 477.3 335.8 L 479.6 335.8 L 481.8 335.8 L 484.1 335.9 L 486.4 336.0 L 488.7 336.2 L 491.0 336.5 L 493.3 336.8 L 495.6 337.2 L 497.9 337.6 L 500.2 338.1 L 502.5 338.6 L 504.8 339.2 L 507.1 339.8 L 509.4 340.5 L 511.7 341.3 L 513.9 342.0 L 516.2 342.9 L 518.5 343.7 L 520.8 344.7 L 523.1 345.6 L 525.4 346.6 L 527.7 347.7 L 530.0 348.7 L 532.3 349.9 L 534.6 351.0 L 536.9 352.2 L 539.2 353.4 L 541.5 354.7 L 543.8 356.0 L 546.0 357.3 L 548.3 358.7 L 550.6 360.1 L 552.9 361.5 L 555.2 362.9 L 557.5 364.4 L 559.8 365.9 L 562.1 367.4 L 564.4 368.9 L 566.7 370.5 L 569.0 372.1 L 571.3 373.7 L 573.6 375.3 L 575.9 377.0 L 578.2 378.6 L 580.4 380.3 L 582.7 382.0 L 585.0 383.7 L 587.3 385.4 L 589.6 387.2 L 591.9 388.9 L 594.2 390.7 L 596.5 392.4 L 598.8 394.2 L 601.1 396.0 L 603.4 397.8 L 605.7 399.5 L 608.0 401.3 L 610.3 403.1 L 612.5 404.9 L 614.8 406.7 L 617.1 408.5 L 619.4 410.3 L 621.7 412.1 L 624.0 413.8 L 626.3 415.6 L 628.6 417.4 L 630.9 419.1 L 633.2 420.9 L 635.5 422.6 L 637.8 424.4 L 640.1 426.1 L 642.4 427.9 L 644.6 429.6 L 646.9 431.3 L 649.2 433.1 L 651.5 434.8 L 653.8 436.5 L 656.1 438.3 L 658.4 440.0 L 660.7 441.7 L 663.0 443.5 L 665.3 445.2 L 667.6 447.0 L 669.9 448.7 L 672.2 450.5 L 674.5 452.2 L 676.7 454.0 L 679.0 455.8 L 681.3 457.6 L 683.6 459.3 L 685.9 461.1 L 688.2 463.0 L 690.5 464.8 L 692.8 466.6 L 695.1 468.5 L 697.4 470.3 L 699.7 472.2 L 702.0 474.1 L 704.3 476.0 L 706.6 477.9 L 708.9 479.8 L 711.1 481.8 L 713.4 483.7 L 715.7 485.7 L 718.0 487.7 L 720.3 489.8 L 722.6 491.8 L 724.9 493.9 L 727.2 496.0 L 729.5 498.1 L 731.8 500.2 L 734.1 502.3 L 736.4 504.5 L 738.7 506.7 L 741.0 509.0 L 743.2 511.2 L 745.5 513.5 L 747.8 515.8 L 750.1 518.1 L 752.4 520.5 L 754.7 522.9 L 757.0 525.3 L 759.3 527.8 L 761.6 530.3 L 763.9 532.8 L 766.2 535.4 L 768.5 537.9 L 770.8 540.6 L 773.1 543.2 L 775.3 545.9 L 777.6 548.6 L 779.9 551.4 L 782.2 554.2 L 784.5 557.0 L 786.8 559.9 L 789.1 562.8 L 791.4 565.8 L 793.7 568.7 L 796.0 571.7 L 798.3 574.7 L 800.6 577.8 L 802.9 580.8 L 805.2 583.9 L 807.4 587.0 L 809.7 590.2 L 812.0 593.3 L 814.3 596.5 L 816.6 599.6 L 818.9 602.8 L 821.2 606.0 L 823.5 609.2 L 825.8 612.4 L 828.1 615.6 L 830.4 618.8 L 832.7 622.0 L 835.0 625.2 L 837.3 628.4 L 839.6 631.6 L 841.8 634.8 L 844.1 638.0 L 846.4 641.2 L 848.7 644.4 L 851.0 647.6 L 853.3 650.7 L 855.6 653.9 L 857.9 657.0 L 860.2 660.1 L 862.5 663.1 L 864.8 666.2 L 867.1 669.2 L 869.4 672.3 L 871.7 675.2 L 873.9 678.2 L 876.2 681.1 L 878.5 684.0 L 880.8 686.9 L 883.1 689.7 L 885.4 692.5 L 887.7 695.2 L 890.0 697.9 L 892.3 700.6 L 894.6 703.2 L 896.9 705.8 L 899.2 708.4 L 901.5 710.8 L 903.8 713.3 L 906.0 715.7 L 908.3 718.0 L 910.6 720.3 L 912.9 722.5 L 915.2 724.7 L 917.5 726.8 L 919.8 728.8 L 922.1 730.8 L 924.4 732.7 L 926.7 734.6 L 929.0 736.4 L 931.3 738.1 L 933.6 739.7 L 935.9 741.3 L 938.1 742.8 L 940.4 744.2 L 942.7 745.6 L 945.0 746.9 L 947.3 748.1 L 949.6 749.3 L 951.9 750.4 L 954.2 751.4 L 956.5 752.4 L 958.8 753.3 L 961.1 754.2 L 963.4 755.0 L 965.7 755.7 L 968.0 756.4 L 970.3 757.0 L 972.5 757.6 L 974.8 758.1 L 977.1 758.6 L 979.4 759.0 L 981.7 759.4 L 984.0 759.7 L 986.3 760.0 L 988.6 760.2 L 990.9 760.4 L 993.2 760.5 L 995.5 760.6 L 997.8 760.7 L 1000.1 760.7 L 1002.4 760.7 L 1004.6 760.6 L 1006.9 760.5 L 1009.2 760.4 L 1011.5 760.2 L 1013.8 760.0 L 1016.1 759.7 L 1018.4 759.5 L 1020.7 759.2 L 1023.0 758.8 L 1025.3 758.5 L 1027.6 758.1 L 1029.9 757.6 L 1032.2 757.2 L 1034.5 756.7 L 1036.7 756.2 L 1039.0 755.7 L 1041.3 755.2 L 1043.6 754.6 L 1045.9 754.0 L 1048.2 753.4 L 1050.5 752.8 L 1052.8 752.2 L 1055.1 751.5 L 1057.4 750.9 L 1059.7 750.2 L 1062.0 749.5 L 1064.3 748.8 L 1066.6 748.1 L 1068.8 747.4 L 1071.1 746.6 L 1073.4 745.9 L 1075.7 745.2 L 1078.0 744.4 L 1080.3 743.7 L 1082.6 742.9 L 1084.9 742.2" fill="none" stroke="#6666C4" stroke-width="4.9" stroke-linejoin="round" stroke-linecap="round"/>
<circle cx="322.5" cy="482.7" r="12.4" fill="url(#gApur)"/>
<circle cx="475.0" cy="335.9" r="12.4" fill="url(#gApur)"/>
<circle cx="627.5" cy="416.5" r="12.4" fill="url(#gApur)"/>
<circle cx="779.9" cy="551.4" r="12.4" fill="url(#gApur)"/>
<circle cx="932.4" cy="738.9" r="12.4" fill="url(#gApur)"/>
<circle cx="1084.9" cy="742.2" r="12.4" fill="url(#gApur)"/>
<path d="M 170 32.3 H 1186.6 M 170 850.5 H 1186.6" fill="none" stroke="#000" stroke-width="6.0" stroke-linecap="round"/>
<path d="M 170 32.3 V 850.5 M 1186.6 32.3 V 850.5" fill="none" stroke="#000" stroke-width="6.5" stroke-linecap="round"/>
<path d="M 170.0 850.5 V 863.7 M 246.2 850.5 V 855.8 M 322.5 850.5 V 863.7 M 398.7 850.5 V 855.8 M 475.0 850.5 V 863.7 M 551.2 850.5 V 855.8 M 627.5 850.5 V 863.7 M 703.7 850.5 V 855.8 M 779.9 850.5 V 863.7 M 856.2 850.5 V 855.8 M 932.4 850.5 V 863.7 M 1008.7 850.5 V 855.8 M 1084.9 850.5 V 863.7 M 1161.1 850.5 V 855.8" stroke="#000" stroke-width="6.0" stroke-linecap="round" fill="none"/>
<path d="M 170.0 850.5 H 156.8 M 170.0 772.5 H 164.7 M 170.0 694.6 H 156.8 M 170.0 616.6 H 164.7 M 170.0 538.7 H 156.8 M 170.0 460.8 H 164.7 M 170.0 382.8 H 156.8 M 170.0 304.9 H 164.7 M 170.0 226.9 H 156.8 M 170.0 149.0 H 164.7 M 170.0 71.0 H 156.8" stroke="#000" stroke-width="5.8" stroke-linecap="round" fill="none"/>
<g font-size="47" fill="#000" stroke="#000" stroke-width="0.6"><text transform="translate(156.93,914.0) scale(1,1.032)">0</text><text transform="translate(296.34,914.0) scale(1,1.032)" clip-path="url(#c0)"><tspan dx="1.5">1</tspan><tspan dx="-1.5">5</tspan></text><text transform="translate(448.83,914.0) scale(1,1.032)">30</text><text transform="translate(601.31,914.0) scale(1,1.032)">45</text><text transform="translate(753.79,914.0) scale(1,1.032)">60</text><text transform="translate(906.28,914.0) scale(1,1.032)">75</text><text transform="translate(1058.76,914.0) scale(1,1.032)">90</text><text transform="translate(116.36,863.8) scale(1,1.032)">0</text><text transform="translate(90.22,707.9) scale(1,1.032)">20</text><text transform="translate(90.22,552.0) scale(1,1.032)">40</text><text transform="translate(90.22,396.1) scale(1,1.032)">60</text><text transform="translate(90.22,240.2) scale(1,1.032)">80</text><text transform="translate(64.08,84.3) scale(1,1.032)" clip-path="url(#c1)"><tspan dx="1.5">1</tspan><tspan dx="-1.5">00</tspan></text></g>
<circle cx="1425.0" cy="846.3" r="12.4" fill="url(#gorig)"/>
<path d="M 1425.0 846.3 L 1427.3 845.7 L 1429.6 845.0 L 1431.9 844.4 L 1434.2 843.8 L 1436.6 843.1 L 1438.9 842.5 L 1441.2 841.8 L 1443.5 841.2 L 1445.8 840.5 L 1448.1 839.9 L 1450.4 839.2 L 1452.7 838.6 L 1455.0 837.9 L 1457.3 837.2 L 1459.7 836.6 L 1462.0 835.9 L 1464.3 835.2 L 1466.6 834.5 L 1468.9 833.8 L 1471.2 833.1 L 1473.5 832.4 L 1475.8 831.7 L 1478.1 831.0 L 1480.5 830.3 L 1482.8 829.5 L 1485.1 828.8 L 1487.4 828.1 L 1489.7 827.3 L 1492.0 826.5 L 1494.3 825.7 L 1496.6 825.0 L 1498.9 824.2 L 1501.2 823.3 L 1503.6 822.5 L 1505.9 821.7 L 1508.2 820.8 L 1510.5 820.0 L 1512.8 819.1 L 1515.1 818.2 L 1517.4 817.3 L 1519.7 816.4 L 1522.0 815.5 L 1524.4 814.6 L 1526.7 813.6 L 1529.0 812.7 L 1531.3 811.7 L 1533.6 810.7 L 1535.9 809.7 L 1538.2 808.7 L 1540.5 807.6 L 1542.8 806.6 L 1545.1 805.5 L 1547.5 804.4 L 1549.8 803.3 L 1552.1 802.2 L 1554.4 801.0 L 1556.7 799.8 L 1559.0 798.7 L 1561.3 797.5 L 1563.6 796.2 L 1565.9 795.0 L 1568.3 793.7 L 1570.6 792.5 L 1572.9 791.2 L 1575.2 789.8 L 1577.5 788.5 L 1579.8 787.1 L 1582.1 785.7 L 1584.4 784.3 L 1586.7 782.9 L 1589.0 781.4 L 1591.4 780.0 L 1593.7 778.5 L 1596.0 777.0 L 1598.3 775.5 L 1600.6 773.9 L 1602.9 772.4 L 1605.2 770.8 L 1607.5 769.2 L 1609.8 767.6 L 1612.2 766.0 L 1614.5 764.4 L 1616.8 762.8 L 1619.1 761.1 L 1621.4 759.5 L 1623.7 757.8 L 1626.0 756.2 L 1628.3 754.5 L 1630.6 752.8 L 1632.9 751.1 L 1635.3 749.5 L 1637.6 747.8 L 1639.9 746.1 L 1642.2 744.4 L 1644.5 742.7 L 1646.8 741.0 L 1649.1 739.3 L 1651.4 737.6 L 1653.7 735.9 L 1656.1 734.2 L 1658.4 732.5 L 1660.7 730.8 L 1663.0 729.1 L 1665.3 727.4 L 1667.6 725.7 L 1669.9 724.0 L 1672.2 722.4 L 1674.5 720.7 L 1676.8 719.1 L 1679.2 717.4 L 1681.5 715.8 L 1683.8 714.2 L 1686.1 712.5 L 1688.4 710.9 L 1690.7 709.4 L 1693.0 707.8 L 1695.3 706.2 L 1697.6 704.7 L 1700.0 703.1 L 1702.3 701.6 L 1704.6 700.1 L 1706.9 698.6 L 1709.2 697.2 L 1711.5 695.7 L 1713.8 694.3 L 1716.1 692.9 L 1718.4 691.5 L 1720.7 690.2 L 1723.1 688.8 L 1725.4 687.5 L 1727.7 686.2 L 1730.0 684.9 L 1732.3 683.7 L 1734.6 682.5 L 1736.9 681.3 L 1739.2 680.1 L 1741.5 679.0 L 1743.9 677.9 L 1746.2 676.8 L 1748.5 675.7 L 1750.8 674.6 L 1753.1 673.6 L 1755.4 672.6 L 1757.7 671.6 L 1760.0 670.6 L 1762.3 669.7 L 1764.6 668.7 L 1767.0 667.8 L 1769.3 666.9 L 1771.6 666.0 L 1773.9 665.1 L 1776.2 664.3 L 1778.5 663.4 L 1780.8 662.6 L 1783.1 661.7 L 1785.4 660.9 L 1787.8 660.1 L 1790.1 659.3 L 1792.4 658.5 L 1794.7 657.7 L 1797.0 657.0 L 1799.3 656.2 L 1801.6 655.4 L 1803.9 654.6 L 1806.2 653.9 L 1808.5 653.1 L 1810.9 652.4 L 1813.2 651.6 L 1815.5 650.9 L 1817.8 650.1 L 1820.1 649.4 L 1822.4 648.6 L 1824.7 647.9 L 1827.0 647.1 L 1829.3 646.4 L 1831.7 645.6 L 1834.0 644.8 L 1836.3 644.1 L 1838.6 643.3 L 1840.9 642.5 L 1843.2 641.7 L 1845.5 640.9 L 1847.8 640.1 L 1850.1 639.3 L 1852.4 638.4 L 1854.8 637.6 L 1857.1 636.7 L 1859.4 635.9 L 1861.7 635.0 L 1864.0 634.1 L 1866.3 633.2 L 1868.6 632.3 L 1870.9 631.3 L 1873.2 630.4 L 1875.6 629.4 L 1877.9 628.4 L 1880.2 627.4 L 1882.5 626.4 L 1884.8 625.3 L 1887.1 624.3 L 1889.4 623.2 L 1891.7 622.1 L 1894.0 620.9 L 1896.3 619.8 L 1898.7 618.6 L 1901.0 617.4 L 1903.3 616.2 L 1905.6 615.0 L 1907.9 613.7 L 1910.2 612.5 L 1912.5 611.2 L 1914.8 609.9 L 1917.1 608.6 L 1919.5 607.3 L 1921.8 606.0 L 1924.1 604.6 L 1926.4 603.3 L 1928.7 601.9 L 1931.0 600.6 L 1933.3 599.2 L 1935.6 597.8 L 1937.9 596.4 L 1940.2 595.0 L 1942.6 593.6 L 1944.9 592.1 L 1947.2 590.7 L 1949.5 589.3 L 1951.8 587.8 L 1954.1 586.4 L 1956.4 584.9 L 1958.7 583.5 L 1961.0 582.0 L 1963.4 580.6 L 1965.7 579.1 L 1968.0 577.7 L 1970.3 576.2 L 1972.6 574.7 L 1974.9 573.3 L 1977.2 571.8 L 1979.5 570.4 L 1981.8 568.9 L 1984.1 567.5 L 1986.5 566.0 L 1988.8 564.6 L 1991.1 563.1 L 1993.4 561.7 L 1995.7 560.3 L 1998.0 558.9 L 2000.3 557.5 L 2002.6 556.1 L 2004.9 554.7 L 2007.3 553.3 L 2009.6 551.9 L 2011.9 550.5 L 2014.2 549.2 L 2016.5 547.8 L 2018.8 546.5 L 2021.1 545.2 L 2023.4 543.9 L 2025.7 542.6 L 2028.0 541.3 L 2030.4 540.1 L 2032.7 538.8 L 2035.0 537.6 L 2037.3 536.4 L 2039.6 535.2 L 2041.9 534.0 L 2044.2 532.9 L 2046.5 531.7 L 2048.8 530.6 L 2051.2 529.5 L 2053.5 528.4 L 2055.8 527.3 L 2058.1 526.3 L 2060.4 525.2 L 2062.7 524.2 L 2065.0 523.1 L 2067.3 522.1 L 2069.6 521.1 L 2071.9 520.1 L 2074.3 519.2 L 2076.6 518.2 L 2078.9 517.2 L 2081.2 516.3 L 2083.5 515.3 L 2085.8 514.4 L 2088.1 513.5 L 2090.4 512.6 L 2092.7 511.6 L 2095.1 510.7 L 2097.4 509.8 L 2099.7 508.9 L 2102.0 508.0 L 2104.3 507.1 L 2106.6 506.2 L 2108.9 505.4 L 2111.2 504.5 L 2113.5 503.6 L 2115.8 502.7 L 2118.2 501.8 L 2120.5 500.9 L 2122.8 500.0 L 2125.1 499.2 L 2127.4 498.3 L 2129.7 497.4 L 2132.0 496.5 L 2134.3 495.6 L 2136.6 494.7 L 2139.0 493.8 L 2141.3 492.9 L 2143.6 491.9 L 2145.9 491.0 L 2148.2 490.1 L 2150.5 489.1 L 2152.8 488.2 L 2155.1 487.2 L 2157.4 486.3 L 2159.7 485.3 L 2162.1 484.3 L 2164.4 483.3 L 2166.7 482.3 L 2169.0 481.3 L 2171.3 480.2 L 2173.6 479.2 L 2175.9 478.1 L 2178.2 477.1 L 2180.5 476.0 L 2182.9 474.9 L 2185.2 473.7 L 2187.5 472.6 L 2189.8 471.5 L 2192.1 470.3 L 2194.4 469.1 L 2196.7 467.9 L 2199.0 466.7 L 2201.3 465.4 L 2203.6 464.2 L 2206.0 462.9 L 2208.3 461.6 L 2210.6 460.3 L 2212.9 459.0 L 2215.2 457.6 L 2217.5 456.3 L 2219.8 454.9 L 2222.1 453.5 L 2224.4 452.1 L 2226.8 450.7 L 2229.1 449.3 L 2231.4 447.8 L 2233.7 446.4 L 2236.0 444.9 L 2238.3 443.4 L 2240.6 441.9 L 2242.9 440.4 L 2245.2 438.9 L 2247.5 437.4 L 2249.9 435.8 L 2252.2 434.3 L 2254.5 432.7 L 2256.8 431.1 L 2259.1 429.5 L 2261.4 427.9 L 2263.7 426.3 L 2266.0 424.7 L 2268.3 423.1 L 2270.7 421.4 L 2273.0 419.8 L 2275.3 418.1 L 2277.6 416.4 L 2279.9 414.8 L 2282.2 413.1 L 2284.5 411.4 L 2286.8 409.7 L 2289.1 408.0 L 2291.4 406.3 L 2293.8 404.6 L 2296.1 402.9 L 2298.4 401.1 L 2300.7 399.4 L 2303.0 397.6 L 2305.3 395.9 L 2307.6 394.2 L 2309.9 392.4 L 2312.2 390.6 L 2314.6 388.9 L 2316.9 387.1 L 2319.2 385.3 L 2321.5 383.6 L 2323.8 381.8 L 2326.1 380.0 L 2328.4 378.2 L 2330.7 376.4 L 2333.0 374.6 L 2335.3 372.9 L 2337.7 371.1 L 2340.0 369.3 L 2342.3 367.5 L 2344.6 365.7 L 2346.9 363.9" fill="none" stroke="#F25F63" stroke-width="4.9" stroke-linejoin="round" stroke-linecap="round"/>
<circle cx="1578.7" cy="787.8" r="12.4" fill="url(#gBred)"/>
<circle cx="1732.3" cy="683.7" r="12.4" fill="url(#gBred)"/>
<circle cx="1886.0" cy="624.8" r="12.4" fill="url(#gBred)"/>
<circle cx="2039.6" cy="535.2" r="12.4" fill="url(#gBred)"/>
<circle cx="2193.2" cy="469.7" r="12.4" fill="url(#gBred)"/>
<circle cx="2346.9" cy="363.9" r="12.4" fill="url(#gBred)"/>
<path d="M 1425.0 846.3 L 1427.3 844.6 L 1429.6 842.9 L 1431.9 841.2 L 1434.2 839.5 L 1436.6 837.8 L 1438.9 836.1 L 1441.2 834.4 L 1443.5 832.7 L 1445.8 831.0 L 1448.1 829.3 L 1450.4 827.6 L 1452.7 825.9 L 1455.0 824.2 L 1457.3 822.4 L 1459.7 820.7 L 1462.0 819.0 L 1464.3 817.2 L 1466.6 815.5 L 1468.9 813.7 L 1471.2 812.0 L 1473.5 810.2 L 1475.8 808.4 L 1478.1 806.6 L 1480.5 804.8 L 1482.8 803.0 L 1485.1 801.2 L 1487.4 799.4 L 1489.7 797.6 L 1492.0 795.7 L 1494.3 793.9 L 1496.6 792.0 L 1498.9 790.1 L 1501.2 788.2 L 1503.6 786.3 L 1505.9 784.4 L 1508.2 782.5 L 1510.5 780.5 L 1512.8 778.6 L 1515.1 776.6 L 1517.4 774.6 L 1519.7 772.6 L 1522.0 770.6 L 1524.4 768.6 L 1526.7 766.5 L 1529.0 764.4 L 1531.3 762.4 L 1533.6 760.3 L 1535.9 758.1 L 1538.2 756.0 L 1540.5 753.9 L 1542.8 751.7 L 1545.1 749.5 L 1547.5 747.3 L 1549.8 745.0 L 1552.1 742.8 L 1554.4 740.5 L 1556.7 738.2 L 1559.0 735.9 L 1561.3 733.6 L 1563.6 731.2 L 1565.9 728.8 L 1568.3 726.4 L 1570.6 724.0 L 1572.9 721.5 L 1575.2 719.1 L 1577.5 716.6 L 1579.8 714.0 L 1582.1 711.5 L 1584.4 708.9 L 1586.7 706.3 L 1589.0 703.7 L 1591.4 701.0 L 1593.7 698.4 L 1596.0 695.7 L 1598.3 693.0 L 1600.6 690.3 L 1602.9 687.5 L 1605.2 684.8 L 1607.5 682.0 L 1609.8 679.2 L 1612.2 676.4 L 1614.5 673.6 L 1616.8 670.8 L 1619.1 668.0 L 1621.4 665.1 L 1623.7 662.3 L 1626.0 659.4 L 1628.3 656.5 L 1630.6 653.6 L 1632.9 650.7 L 1635.3 647.8 L 1637.6 644.9 L 1639.9 642.0 L 1642.2 639.1 L 1644.5 636.2 L 1646.8 633.3 L 1649.1 630.4 L 1651.4 627.4 L 1653.7 624.5 L 1656.1 621.6 L 1658.4 618.7 L 1660.7 615.8 L 1663.0 612.9 L 1665.3 610.0 L 1667.6 607.1 L 1669.9 604.2 L 1672.2 601.3 L 1674.5 598.4 L 1676.8 595.5 L 1679.2 592.7 L 1681.5 589.8 L 1683.8 587.0 L 1686.1 584.1 L 1688.4 581.3 L 1690.7 578.5 L 1693.0 575.7 L 1695.3 572.9 L 1697.6 570.2 L 1700.0 567.4 L 1702.3 564.7 L 1704.6 562.0 L 1706.9 559.3 L 1709.2 556.6 L 1711.5 553.9 L 1713.8 551.3 L 1716.1 548.7 L 1718.4 546.1 L 1720.7 543.5 L 1723.1 541.0 L 1725.4 538.5 L 1727.7 536.0 L 1730.0 533.5 L 1732.3 531.1 L 1734.6 528.7 L 1736.9 526.3 L 1739.2 524.0 L 1741.5 521.6 L 1743.9 519.3 L 1746.2 517.1 L 1748.5 514.8 L 1750.8 512.6 L 1753.1 510.4 L 1755.4 508.2 L 1757.7 506.0 L 1760.0 503.9 L 1762.3 501.8 L 1764.6 499.7 L 1767.0 497.6 L 1769.3 495.5 L 1771.6 493.5 L 1773.9 491.5 L 1776.2 489.5 L 1778.5 487.5 L 1780.8 485.5 L 1783.1 483.6 L 1785.4 481.6 L 1787.8 479.7 L 1790.1 477.8 L 1792.4 475.9 L 1794.7 474.0 L 1797.0 472.1 L 1799.3 470.2 L 1801.6 468.4 L 1803.9 466.5 L 1806.2 464.7 L 1808.5 462.9 L 1810.9 461.0 L 1813.2 459.2 L 1815.5 457.4 L 1817.8 455.6 L 1820.1 453.8 L 1822.4 452.0 L 1824.7 450.3 L 1827.0 448.5 L 1829.3 446.7 L 1831.7 444.9 L 1834.0 443.1 L 1836.3 441.4 L 1838.6 439.6 L 1840.9 437.8 L 1843.2 436.1 L 1845.5 434.3 L 1847.8 432.5 L 1850.1 430.7 L 1852.4 428.9 L 1854.8 427.2 L 1857.1 425.4 L 1859.4 423.6 L 1861.7 421.8 L 1864.0 420.0 L 1866.3 418.2 L 1868.6 416.3 L 1870.9 414.5 L 1873.2 412.7 L 1875.6 410.8 L 1877.9 409.0 L 1880.2 407.1 L 1882.5 405.2 L 1884.8 403.3 L 1887.1 401.4 L 1889.4 399.5 L 1891.7 397.6 L 1894.0 395.7 L 1896.3 393.7 L 1898.7 391.8 L 1901.0 389.8 L 1903.3 387.8 L 1905.6 385.9 L 1907.9 383.9 L 1910.2 381.9 L 1912.5 379.9 L 1914.8 377.9 L 1917.1 375.9 L 1919.5 373.9 L 1921.8 371.9 L 1924.1 369.8 L 1926.4 367.8 L 1928.7 365.8 L 1931.0 363.8 L 1933.3 361.8 L 1935.6 359.7 L 1937.9 357.7 L 1940.2 355.7 L 1942.6 353.7 L 1944.9 351.7 L 1947.2 349.7 L 1949.5 347.7 L 1951.8 345.7 L 1954.1 343.7 L 1956.4 341.7 L 1958.7 339.7 L 1961.0 337.8 L 1963.4 335.8 L 1965.7 333.9 L 1968.0 331.9 L 1970.3 330.0 L 1972.6 328.1 L 1974.9 326.2 L 1977.2 324.3 L 1979.5 322.4 L 1981.8 320.5 L 1984.1 318.7 L 1986.5 316.9 L 1988.8 315.0 L 1991.1 313.2 L 1993.4 311.4 L 1995.7 309.7 L 1998.0 307.9 L 2000.3 306.2 L 2002.6 304.5 L 2004.9 302.8 L 2007.3 301.1 L 2009.6 299.5 L 2011.9 297.8 L 2014.2 296.2 L 2016.5 294.7 L 2018.8 293.1 L 2021.1 291.6 L 2023.4 290.1 L 2025.7 288.6 L 2028.0 287.1 L 2030.4 285.7 L 2032.7 284.3 L 2035.0 282.9 L 2037.3 281.6 L 2039.6 280.3 L 2041.9 279.0 L 2044.2 277.8 L 2046.5 276.6 L 2048.8 275.4 L 2051.2 274.2 L 2053.5 273.1 L 2055.8 272.0 L 2058.1 270.9 L 2060.4 269.8 L 2062.7 268.8 L 2065.0 267.8 L 2067.3 266.8 L 2069.6 265.8 L 2071.9 264.9 L 2074.3 263.9 L 2076.6 263.0 L 2078.9 262.2 L 2081.2 261.3 L 2083.5 260.4 L 2085.8 259.6 L 2088.1 258.8 L 2090.4 258.0 L 2092.7 257.2 L 2095.1 256.4 L 2097.4 255.6 L 2099.7 254.9 L 2102.0 254.2 L 2104.3 253.4 L 2106.6 252.7 L 2108.9 252.0 L 2111.2 251.3 L 2113.5 250.6 L 2115.8 249.9 L 2118.2 249.2 L 2120.5 248.5 L 2122.8 247.9 L 2125.1 247.2 L 2127.4 246.5 L 2129.7 245.9 L 2132.0 245.2 L 2134.3 244.5 L 2136.6 243.9 L 2139.0 243.2 L 2141.3 242.6 L 2143.6 241.9 L 2145.9 241.2 L 2148.2 240.5 L 2150.5 239.9 L 2152.8 239.2 L 2155.1 238.5 L 2157.4 237.8 L 2159.7 237.1 L 2162.1 236.4 L 2164.4 235.7 L 2166.7 234.9 L 2169.0 234.2 L 2171.3 233.4 L 2173.6 232.7 L 2175.9 231.9 L 2178.2 231.1 L 2180.5 230.3 L 2182.9 229.5 L 2185.2 228.7 L 2187.5 227.8 L 2189.8 226.9 L 2192.1 226.1 L 2194.4 225.1 L 2196.7 224.2 L 2199.0 223.3 L 2201.3 222.3 L 2203.6 221.3 L 2206.0 220.3 L 2208.3 219.3 L 2210.6 218.3 L 2212.9 217.2 L 2215.2 216.2 L 2217.5 215.1 L 2219.8 214.0 L 2222.1 212.9 L 2224.4 211.8 L 2226.8 210.6 L 2229.1 209.4 L 2231.4 208.3 L 2233.7 207.1 L 2236.0 205.9 L 2238.3 204.7 L 2240.6 203.4 L 2242.9 202.2 L 2245.2 200.9 L 2247.5 199.7 L 2249.9 198.4 L 2252.2 197.1 L 2254.5 195.8 L 2256.8 194.5 L 2259.1 193.1 L 2261.4 191.8 L 2263.7 190.4 L 2266.0 189.1 L 2268.3 187.7 L 2270.7 186.3 L 2273.0 185.0 L 2275.3 183.6 L 2277.6 182.1 L 2279.9 180.7 L 2282.2 179.3 L 2284.5 177.9 L 2286.8 176.4 L 2289.1 175.0 L 2291.4 173.5 L 2293.8 172.1 L 2296.1 170.6 L 2298.4 169.1 L 2300.7 167.6 L 2303.0 166.2 L 2305.3 164.7 L 2307.6 163.2 L 2309.9 161.7 L 2312.2 160.2 L 2314.6 158.6 L 2316.9 157.1 L 2319.2 155.6 L 2321.5 154.1 L 2323.8 152.6 L 2326.1 151.0 L 2328.4 149.5 L 2330.7 148.0 L 2333.0 146.4 L 2335.3 144.9 L 2337.7 143.4 L 2340.0 141.8 L 2342.3 140.3 L 2344.6 138.7 L 2346.9 137.2" fill="none" stroke="#FFA33A" stroke-width="4.9" stroke-linejoin="round" stroke-linecap="round"/>
<circle cx="1578.7" cy="715.3" r="12.4" fill="url(#gByel)"/>
<circle cx="1732.3" cy="531.1" r="12.4" fill="url(#gByel)"/>
<circle cx="1886.0" cy="402.4" r="12.4" fill="url(#gByel)"/>
<circle cx="2039.6" cy="280.3" r="12.4" fill="url(#gByel)"/>
<circle cx="2193.2" cy="225.6" r="12.4" fill="url(#gByel)"/>
<circle cx="2346.9" cy="137.2" r="12.4" fill="url(#gByel)"/>
<path d="M 1425.0 846.3 L 1427.3 841.0 L 1429.6 835.8 L 1431.9 830.5 L 1434.2 825.2 L 1436.6 820.0 L 1438.9 814.7 L 1441.2 809.4 L 1443.5 804.2 L 1445.8 798.9 L 1448.1 793.6 L 1450.4 788.4 L 1452.7 783.1 L 1455.0 777.8 L 1457.3 772.6 L 1459.7 767.3 L 1462.0 762.0 L 1464.3 756.8 L 1466.6 751.5 L 1468.9 746.2 L 1471.2 741.0 L 1473.5 735.7 L 1475.8 730.4 L 1478.1 725.2 L 1480.5 719.9 L 1482.8 714.7 L 1485.1 709.4 L 1487.4 704.1 L 1489.7 698.9 L 1492.0 693.6 L 1494.3 688.4 L 1496.6 683.1 L 1498.9 677.9 L 1501.2 672.6 L 1503.6 667.3 L 1505.9 662.1 L 1508.2 656.8 L 1510.5 651.6 L 1512.8 646.3 L 1515.1 641.1 L 1517.4 635.8 L 1519.7 630.6 L 1522.0 625.3 L 1524.4 620.1 L 1526.7 614.8 L 1529.0 609.6 L 1531.3 604.3 L 1533.6 599.1 L 1535.9 593.9 L 1538.2 588.6 L 1540.5 583.4 L 1542.8 578.1 L 1545.1 572.9 L 1547.5 567.7 L 1549.8 562.4 L 1552.1 557.2 L 1554.4 552.0 L 1556.7 546.7 L 1559.0 541.5 L 1561.3 536.3 L 1563.6 531.0 L 1565.9 525.8 L 1568.3 520.6 L 1570.6 515.4 L 1572.9 510.1 L 1575.2 504.9 L 1577.5 499.7 L 1579.8 494.5 L 1582.1 489.3 L 1584.4 484.1 L 1586.7 478.9 L 1589.0 473.6 L 1591.4 468.4 L 1593.7 463.3 L 1596.0 458.1 L 1598.3 452.9 L 1600.6 447.7 L 1602.9 442.5 L 1605.2 437.4 L 1607.5 432.3 L 1609.8 427.1 L 1612.2 422.0 L 1614.5 416.9 L 1616.8 411.8 L 1619.1 406.7 L 1621.4 401.7 L 1623.7 396.6 L 1626.0 391.6 L 1628.3 386.6 L 1630.6 381.6 L 1632.9 376.6 L 1635.3 371.6 L 1637.6 366.7 L 1639.9 361.8 L 1642.2 356.9 L 1644.5 352.0 L 1646.8 347.2 L 1649.1 342.3 L 1651.4 337.5 L 1653.7 332.8 L 1656.1 328.0 L 1658.4 323.3 L 1660.7 318.6 L 1663.0 314.0 L 1665.3 309.3 L 1667.6 304.7 L 1669.9 300.2 L 1672.2 295.6 L 1674.5 291.1 L 1676.8 286.7 L 1679.2 282.2 L 1681.5 277.8 L 1683.8 273.5 L 1686.1 269.1 L 1688.4 264.9 L 1690.7 260.6 L 1693.0 256.4 L 1695.3 252.2 L 1697.6 248.1 L 1700.0 244.0 L 1702.3 240.0 L 1704.6 236.0 L 1706.9 232.0 L 1709.2 228.1 L 1711.5 224.2 L 1713.8 220.4 L 1716.1 216.6 L 1718.4 212.9 L 1720.7 209.2 L 1723.1 205.6 L 1725.4 202.0 L 1727.7 198.5 L 1730.0 195.0 L 1732.3 191.6 L 1734.6 188.2 L 1736.9 184.9 L 1739.2 181.6 L 1741.5 178.4 L 1743.9 175.3 L 1746.2 172.2 L 1748.5 169.1 L 1750.8 166.1 L 1753.1 163.1 L 1755.4 160.2 L 1757.7 157.4 L 1760.0 154.6 L 1762.3 151.8 L 1764.6 149.1 L 1767.0 146.4 L 1769.3 143.8 L 1771.6 141.3 L 1773.9 138.7 L 1776.2 136.3 L 1778.5 133.8 L 1780.8 131.5 L 1783.1 129.1 L 1785.4 126.8 L 1787.8 124.6 L 1790.1 122.4 L 1792.4 120.2 L 1794.7 118.1 L 1797.0 116.0 L 1799.3 114.0 L 1801.6 112.0 L 1803.9 110.1 L 1806.2 108.2 L 1808.5 106.3 L 1810.9 104.5 L 1813.2 102.7 L 1815.5 101.0 L 1817.8 99.3 L 1820.1 97.7 L 1822.4 96.0 L 1824.7 94.5 L 1827.0 92.9 L 1829.3 91.4 L 1831.7 90.0 L 1834.0 88.5 L 1836.3 87.2 L 1838.6 85.8 L 1840.9 84.5 L 1843.2 83.2 L 1845.5 82.0 L 1847.8 80.8 L 1850.1 79.6 L 1852.4 78.5 L 1854.8 77.4 L 1857.1 76.3 L 1859.4 75.3 L 1861.7 74.3 L 1864.0 73.3 L 1866.3 72.4 L 1868.6 71.5 L 1870.9 70.6 L 1873.2 69.8 L 1875.6 69.0 L 1877.9 68.2 L 1880.2 67.4 L 1882.5 66.7 L 1884.8 66.0 L 1887.1 65.4 L 1889.4 64.7 L 1891.7 64.1 L 1894.0 63.6 L 1896.3 63.0 L 1898.7 62.5 L 1901.0 62.0 L 1903.3 61.6 L 1905.6 61.1 L 1907.9 60.7 L 1910.2 60.3 L 1912.5 59.9 L 1914.8 59.6 L 1917.1 59.3 L 1919.5 59.0 L 1921.8 58.7 L 1924.1 58.4 L 1926.4 58.2 L 1928.7 58.0 L 1931.0 57.8 L 1933.3 57.6 L 1935.6 57.4 L 1937.9 57.3 L 1940.2 57.2 L 1942.6 57.1 L 1944.9 57.0 L 1947.2 56.9 L 1949.5 56.8 L 1951.8 56.8 L 1954.1 56.7 L 1956.4 56.7 L 1958.7 56.7 L 1961.0 56.7 L 1963.4 56.7 L 1965.7 56.8 L 1968.0 56.8 L 1970.3 56.9 L 1972.6 56.9 L 1974.9 57.0 L 1977.2 57.1 L 1979.5 57.2 L 1981.8 57.2 L 1984.1 57.3 L 1986.5 57.5 L 1988.8 57.6 L 1991.1 57.7 L 1993.4 57.8 L 1995.7 57.9 L 1998.0 58.1 L 2000.3 58.2 L 2002.6 58.4 L 2004.9 58.5 L 2007.3 58.7 L 2009.6 58.8 L 2011.9 58.9 L 2014.2 59.1 L 2016.5 59.2 L 2018.8 59.4 L 2021.1 59.5 L 2023.4 59.7 L 2025.7 59.8 L 2028.0 60.0 L 2030.4 60.1 L 2032.7 60.2 L 2035.0 60.4 L 2037.3 60.5 L 2039.6 60.6 L 2041.9 60.7 L 2044.2 60.8 L 2046.5 60.9 L 2048.8 61.0 L 2051.2 61.1 L 2053.5 61.2 L 2055.8 61.3 L 2058.1 61.3 L 2060.4 61.4 L 2062.7 61.5 L 2065.0 61.5 L 2067.3 61.6 L 2069.6 61.6 L 2071.9 61.7 L 2074.3 61.7 L 2076.6 61.8 L 2078.9 61.8 L 2081.2 61.8 L 2083.5 61.8 L 2085.8 61.9 L 2088.1 61.9 L 2090.4 61.9 L 2092.7 61.9 L 2095.1 61.9 L 2097.4 61.9 L 2099.7 61.9 L 2102.0 61.9 L 2104.3 61.9 L 2106.6 61.9 L 2108.9 61.9 L 2111.2 61.9 L 2113.5 61.9 L 2115.8 61.8 L 2118.2 61.8 L 2120.5 61.8 L 2122.8 61.8 L 2125.1 61.7 L 2127.4 61.7 L 2129.7 61.7 L 2132.0 61.6 L 2134.3 61.6 L 2136.6 61.6 L 2139.0 61.5 L 2141.3 61.5 L 2143.6 61.5 L 2145.9 61.4 L 2148.2 61.4 L 2150.5 61.3 L 2152.8 61.3 L 2155.1 61.3 L 2157.4 61.2 L 2159.7 61.2 L 2162.1 61.1 L 2164.4 61.1 L 2166.7 61.0 L 2169.0 61.0 L 2171.3 61.0 L 2173.6 60.9 L 2175.9 60.9 L 2178.2 60.8 L 2180.5 60.8 L 2182.9 60.8 L 2185.2 60.7 L 2187.5 60.7 L 2189.8 60.7 L 2192.1 60.6 L 2194.4 60.6 L 2196.7 60.6 L 2199.0 60.5 L 2201.3 60.5 L 2203.6 60.5 L 2206.0 60.4 L 2208.3 60.4 L 2210.6 60.4 L 2212.9 60.4 L 2215.2 60.4 L 2217.5 60.3 L 2219.8 60.3 L 2222.1 60.3 L 2224.4 60.3 L 2226.8 60.3 L 2229.1 60.3 L 2231.4 60.2 L 2233.7 60.2 L 2236.0 60.2 L 2238.3 60.2 L 2240.6 60.2 L 2242.9 60.2 L 2245.2 60.2 L 2247.5 60.2 L 2249.9 60.2 L 2252.2 60.2 L 2254.5 60.2 L 2256.8 60.2 L 2259.1 60.2 L 2261.4 60.2 L 2263.7 60.2 L 2266.0 60.2 L 2268.3 60.2 L 2270.7 60.2 L 2273.0 60.2 L 2275.3 60.2 L 2277.6 60.2 L 2279.9 60.2 L 2282.2 60.2 L 2284.5 60.2 L 2286.8 60.2 L 2289.1 60.2 L 2291.4 60.3 L 2293.8 60.3 L 2296.1 60.3 L 2298.4 60.3 L 2300.7 60.3 L 2303.0 60.3 L 2305.3 60.3 L 2307.6 60.3 L 2309.9 60.4 L 2312.2 60.4 L 2314.6 60.4 L 2316.9 60.4 L 2319.2 60.4 L 2321.5 60.4 L 2323.8 60.4 L 2326.1 60.5 L 2328.4 60.5 L 2330.7 60.5 L 2333.0 60.5 L 2335.3 60.5 L 2337.7 60.5 L 2340.0 60.6 L 2342.3 60.6 L 2344.6 60.6 L 2346.9 60.6" fill="none" stroke="#45AFD0" stroke-width="4.9" stroke-linejoin="round" stroke-linecap="round"/>
<circle cx="1578.7" cy="497.1" r="12.4" fill="url(#gBcya)"/>
<circle cx="1732.3" cy="191.6" r="12.4" fill="url(#gBcya)"/>
<circle cx="1886.0" cy="65.7" r="12.4" fill="url(#gBcya)"/>
<circle cx="2039.6" cy="60.6" r="12.4" fill="url(#gBcya)"/>
<circle cx="2193.2" cy="60.6" r="12.4" fill="url(#gBcya)"/>
<circle cx="2346.9" cy="60.6" r="12.4" fill="url(#gBcya)"/>
<path d="M 1425.0 846.3 L 1427.3 838.4 L 1429.6 830.4 L 1431.9 822.5 L 1434.2 814.6 L 1436.6 806.7 L 1438.9 798.8 L 1441.2 790.8 L 1443.5 782.9 L 1445.8 775.0 L 1448.1 767.1 L 1450.4 759.3 L 1452.7 751.4 L 1455.0 743.5 L 1457.3 735.6 L 1459.7 727.8 L 1462.0 719.9 L 1464.3 712.1 L 1466.6 704.3 L 1468.9 696.5 L 1471.2 688.7 L 1473.5 680.9 L 1475.8 673.2 L 1478.1 665.4 L 1480.5 657.7 L 1482.8 650.0 L 1485.1 642.3 L 1487.4 634.6 L 1489.7 627.0 L 1492.0 619.3 L 1494.3 611.7 L 1496.6 604.1 L 1498.9 596.5 L 1501.2 589.0 L 1503.6 581.5 L 1505.9 574.0 L 1508.2 566.5 L 1510.5 559.0 L 1512.8 551.6 L 1515.1 544.2 L 1517.4 536.9 L 1519.7 529.5 L 1522.0 522.2 L 1524.4 514.9 L 1526.7 507.7 L 1529.0 500.5 L 1531.3 493.3 L 1533.6 486.1 L 1535.9 479.0 L 1538.2 471.9 L 1540.5 464.9 L 1542.8 457.9 L 1545.1 450.9 L 1547.5 443.9 L 1549.8 437.0 L 1552.1 430.2 L 1554.4 423.4 L 1556.7 416.6 L 1559.0 409.8 L 1561.3 403.1 L 1563.6 396.5 L 1565.9 389.9 L 1568.3 383.3 L 1570.6 376.8 L 1572.9 370.3 L 1575.2 363.9 L 1577.5 357.5 L 1579.8 351.1 L 1582.1 344.8 L 1584.4 338.6 L 1586.7 332.4 L 1589.0 326.3 L 1591.4 320.2 L 1593.7 314.1 L 1596.0 308.1 L 1598.3 302.2 L 1600.6 296.3 L 1602.9 290.5 L 1605.2 284.7 L 1607.5 279.0 L 1609.8 273.3 L 1612.2 267.7 L 1614.5 262.1 L 1616.8 256.6 L 1619.1 251.2 L 1621.4 245.8 L 1623.7 240.5 L 1626.0 235.2 L 1628.3 230.0 L 1630.6 224.9 L 1632.9 219.8 L 1635.3 214.8 L 1637.6 209.8 L 1639.9 204.9 L 1642.2 200.1 L 1644.5 195.3 L 1646.8 190.6 L 1649.1 186.0 L 1651.4 181.4 L 1653.7 176.9 L 1656.1 172.5 L 1658.4 168.1 L 1660.7 163.8 L 1663.0 159.6 L 1665.3 155.4 L 1667.6 151.3 L 1669.9 147.3 L 1672.2 143.4 L 1674.5 139.5 L 1676.8 135.7 L 1679.2 132.0 L 1681.5 128.3 L 1683.8 124.7 L 1686.1 121.2 L 1688.4 117.8 L 1690.7 114.5 L 1693.0 111.2 L 1695.3 108.0 L 1697.6 104.9 L 1700.0 101.8 L 1702.3 98.9 L 1704.6 96.0 L 1706.9 93.2 L 1709.2 90.5 L 1711.5 87.8 L 1713.8 85.3 L 1716.1 82.8 L 1718.4 80.4 L 1720.7 78.1 L 1723.1 75.9 L 1725.4 73.8 L 1727.7 71.7 L 1730.0 69.8 L 1732.3 67.9 L 1734.6 66.1 L 1736.9 64.4 L 1739.2 62.8 L 1741.5 61.3 L 1743.9 59.8 L 1746.2 58.5 L 1748.5 57.2 L 1750.8 56.0 L 1753.1 54.8 L 1755.4 53.7 L 1757.7 52.8 L 1760.0 51.8 L 1762.3 51.0 L 1764.6 50.2 L 1767.0 49.5 L 1769.3 48.8 L 1771.6 48.2 L 1773.9 47.7 L 1776.2 47.2 L 1778.5 46.8 L 1780.8 46.4 L 1783.1 46.1 L 1785.4 45.8 L 1787.8 45.6 L 1790.1 45.4 L 1792.4 45.3 L 1794.7 45.2 L 1797.0 45.2 L 1799.3 45.2 L 1801.6 45.3 L 1803.9 45.4 L 1806.2 45.5 L 1808.5 45.7 L 1810.9 45.9 L 1813.2 46.1 L 1815.5 46.4 L 1817.8 46.7 L 1820.1 47.0 L 1822.4 47.3 L 1824.7 47.7 L 1827.0 48.1 L 1829.3 48.5 L 1831.7 48.9 L 1834.0 49.4 L 1836.3 49.8 L 1838.6 50.3 L 1840.9 50.8 L 1843.2 51.3 L 1845.5 51.8 L 1847.8 52.4 L 1850.1 52.9 L 1852.4 53.4 L 1854.8 53.9 L 1857.1 54.5 L 1859.4 55.0 L 1861.7 55.5 L 1864.0 56.1 L 1866.3 56.6 L 1868.6 57.1 L 1870.9 57.6 L 1873.2 58.1 L 1875.6 58.6 L 1877.9 59.1 L 1880.2 59.5 L 1882.5 60.0 L 1884.8 60.4 L 1887.1 60.8 L 1889.4 61.2 L 1891.7 61.5 L 1894.0 61.9 L 1896.3 62.2 L 1898.7 62.5 L 1901.0 62.8 L 1903.3 63.1 L 1905.6 63.3 L 1907.9 63.5 L 1910.2 63.7 L 1912.5 63.9 L 1914.8 64.1 L 1917.1 64.3 L 1919.5 64.4 L 1921.8 64.6 L 1924.1 64.7 L 1926.4 64.8 L 1928.7 64.9 L 1931.0 64.9 L 1933.3 65.0 L 1935.6 65.1 L 1937.9 65.1 L 1940.2 65.1 L 1942.6 65.1 L 1944.9 65.1 L 1947.2 65.1 L 1949.5 65.1 L 1951.8 65.1 L 1954.1 65.1 L 1956.4 65.0 L 1958.7 65.0 L 1961.0 64.9 L 1963.4 64.8 L 1965.7 64.7 L 1968.0 64.7 L 1970.3 64.6 L 1972.6 64.5 L 1974.9 64.4 L 1977.2 64.2 L 1979.5 64.1 L 1981.8 64.0 L 1984.1 63.9 L 1986.5 63.8 L 1988.8 63.6 L 1991.1 63.5 L 1993.4 63.3 L 1995.7 63.2 L 1998.0 63.1 L 2000.3 62.9 L 2002.6 62.8 L 2004.9 62.6 L 2007.3 62.5 L 2009.6 62.3 L 2011.9 62.2 L 2014.2 62.0 L 2016.5 61.9 L 2018.8 61.8 L 2021.1 61.6 L 2023.4 61.5 L 2025.7 61.3 L 2028.0 61.2 L 2030.4 61.1 L 2032.7 60.9 L 2035.0 60.8 L 2037.3 60.7 L 2039.6 60.6 L 2041.9 60.5 L 2044.2 60.4 L 2046.5 60.3 L 2048.8 60.2 L 2051.2 60.1 L 2053.5 60.0 L 2055.8 60.0 L 2058.1 59.9 L 2060.4 59.8 L 2062.7 59.8 L 2065.0 59.7 L 2067.3 59.7 L 2069.6 59.6 L 2071.9 59.6 L 2074.3 59.5 L 2076.6 59.5 L 2078.9 59.5 L 2081.2 59.5 L 2083.5 59.4 L 2085.8 59.4 L 2088.1 59.4 L 2090.4 59.4 L 2092.7 59.4 L 2095.1 59.4 L 2097.4 59.4 L 2099.7 59.4 L 2102.0 59.4 L 2104.3 59.4 L 2106.6 59.4 L 2108.9 59.4 L 2111.2 59.4 L 2113.5 59.4 L 2115.8 59.4 L 2118.2 59.5 L 2120.5 59.5 L 2122.8 59.5 L 2125.1 59.5 L 2127.4 59.6 L 2129.7 59.6 L 2132.0 59.6 L 2134.3 59.6 L 2136.6 59.7 L 2139.0 59.7 L 2141.3 59.8 L 2143.6 59.8 L 2145.9 59.8 L 2148.2 59.9 L 2150.5 59.9 L 2152.8 59.9 L 2155.1 60.0 L 2157.4 60.0 L 2159.7 60.1 L 2162.1 60.1 L 2164.4 60.1 L 2166.7 60.2 L 2169.0 60.2 L 2171.3 60.3 L 2173.6 60.3 L 2175.9 60.3 L 2178.2 60.4 L 2180.5 60.4 L 2182.9 60.4 L 2185.2 60.5 L 2187.5 60.5 L 2189.8 60.6 L 2192.1 60.6 L 2194.4 60.6 L 2196.7 60.6 L 2199.0 60.7 L 2201.3 60.7 L 2203.6 60.7 L 2206.0 60.7 L 2208.3 60.8 L 2210.6 60.8 L 2212.9 60.8 L 2215.2 60.8 L 2217.5 60.9 L 2219.8 60.9 L 2222.1 60.9 L 2224.4 60.9 L 2226.8 60.9 L 2229.1 60.9 L 2231.4 60.9 L 2233.7 60.9 L 2236.0 61.0 L 2238.3 61.0 L 2240.6 61.0 L 2242.9 61.0 L 2245.2 61.0 L 2247.5 61.0 L 2249.9 61.0 L 2252.2 61.0 L 2254.5 61.0 L 2256.8 61.0 L 2259.1 61.0 L 2261.4 61.0 L 2263.7 61.0 L 2266.0 61.0 L 2268.3 61.0 L 2270.7 61.0 L 2273.0 61.0 L 2275.3 61.0 L 2277.6 61.0 L 2279.9 61.0 L 2282.2 61.0 L 2284.5 60.9 L 2286.8 60.9 L 2289.1 60.9 L 2291.4 60.9 L 2293.8 60.9 L 2296.1 60.9 L 2298.4 60.9 L 2300.7 60.9 L 2303.0 60.9 L 2305.3 60.9 L 2307.6 60.8 L 2309.9 60.8 L 2312.2 60.8 L 2314.6 60.8 L 2316.9 60.8 L 2319.2 60.8 L 2321.5 60.8 L 2323.8 60.8 L 2326.1 60.7 L 2328.4 60.7 L 2330.7 60.7 L 2333.0 60.7 L 2335.3 60.7 L 2337.7 60.7 L 2340.0 60.6 L 2342.3 60.6 L 2344.6 60.6 L 2346.9 60.6" fill="none" stroke="#6666C4" stroke-width="4.9" stroke-linejoin="round" stroke-linecap="round"/>
<circle cx="1578.7" cy="354.3" r="12.4" fill="url(#gBpur)"/>
<circle cx="1732.3" cy="67.9" r="12.4" fill="url(#gBpur)"/>
<circle cx="1886.0" cy="60.6" r="12.4" fill="url(#gBpur)"/>
<circle cx="2039.6" cy="60.6" r="12.4" fill="url(#gBpur)"/>
<circle cx="2193.2" cy="60.6" r="12.4" fill="url(#gBpur)"/>
<circle cx="2346.9" cy="60.6" r="12.4" fill="url(#gBpur)"/>
<path d="M 1425.0 21.3 H 2449.9 M 1425.0 846.3 H 2449.9" fill="none" stroke="#000" stroke-width="6.0" stroke-linecap="round"/>
<path d="M 1425.0 21.3 V 846.3 M 2449.9 21.3 V 846.3" fill="none" stroke="#000" stroke-width="6.5" stroke-linecap="round"/>
<path d="M 1425.0 846.3 V 859.5 M 1501.8 846.3 V 851.6 M 1578.7 846.3 V 859.5 M 1655.5 846.3 V 851.6 M 1732.3 846.3 V 859.5 M 1809.1 846.3 V 851.6 M 1886.0 846.3 V 859.5 M 1962.8 846.3 V 851.6 M 2039.6 846.3 V 859.5 M 2116.4 846.3 V 851.6 M 2193.2 846.3 V 859.5 M 2270.1 846.3 V 851.6 M 2346.9 846.3 V 859.5 M 2423.7 846.3 V 851.6" stroke="#000" stroke-width="6.0" stroke-linecap="round" fill="none"/>
<path d="M 1425.0 846.3 H 1411.8 M 1425.0 767.7 H 1419.7 M 1425.0 689.1 H 1411.8 M 1425.0 610.5 H 1419.7 M 1425.0 531.9 H 1411.8 M 1425.0 453.3 H 1419.7 M 1425.0 374.7 H 1411.8 M 1425.0 296.1 H 1419.7 M 1425.0 217.5 H 1411.8 M 1425.0 138.9 H 1419.7 M 1425.0 60.4 H 1411.8" stroke="#000" stroke-width="5.8" stroke-linecap="round" fill="none"/>
<g font-size="47" fill="#000" stroke="#000" stroke-width="0.6"><text transform="translate(1411.93,909.8) scale(1,1.032)">0</text><text transform="translate(1552.51,909.8) scale(1,1.032)" clip-path="url(#c2)"><tspan dx="1.5">1</tspan><tspan dx="-1.5">5</tspan></text><text transform="translate(1706.16,909.8) scale(1,1.032)">30</text><text transform="translate(1859.81,909.8) scale(1,1.032)">45</text><text transform="translate(2013.46,909.8) scale(1,1.032)">60</text><text transform="translate(2167.11,909.8) scale(1,1.032)">75</text><text transform="translate(2320.76,909.8) scale(1,1.032)">90</text><text transform="translate(1371.36,859.6) scale(1,1.032)">0</text><text transform="translate(1345.22,702.4) scale(1,1.032)">20</text><text transform="translate(1345.22,545.2) scale(1,1.032)">40</text><text transform="translate(1345.22,388.0) scale(1,1.032)">60</text><text transform="translate(1345.22,230.8) scale(1,1.032)">80</text><text transform="translate(1319.08,73.7) scale(1,1.032)" clip-path="url(#c3)"><tspan dx="1.5">1</tspan><tspan dx="-1.5">00</tspan></text></g>
<g font-size="54" font-weight="bold" fill="#000">
<text x="2" y="44.8" font-size="55">(a)</text>
<text x="1249" y="44.8" font-size="55">(b)</text>
<text x="623.8" y="973" text-anchor="middle">Time (min)</text>
<text x="1882.3" y="973" text-anchor="middle">Time (min)</text>
<text transform="translate(55,440) rotate(-90)" text-anchor="middle">Furfural yield (%)</text>
<text transform="translate(1304.5,433) rotate(-90)" text-anchor="middle" font-size="54.4">Xylose conversion (%)</text>
</g>
<path d="M 241.5 87.6 H 344" stroke="#F25F63" stroke-width="4.9" stroke-linecap="round"/><circle cx="293.1" cy="87.6" r="12.4" fill="url(#gAred)"/><text transform="translate(371,102.9) scale(1,1.04)" font-size="46" font-weight="bold" fill="#F25F63" clip-path="url(#c4)"><tspan dx="0.7">1</tspan><tspan dx="-0.7">60 °C</tspan></text><path d="M 241.5 146.0 H 344" stroke="#FFC466" stroke-width="4.9" stroke-linecap="round"/><circle cx="293.1" cy="146.0" r="12.4" fill="url(#gAyel)"/><text transform="translate(371,161.3) scale(1,1.04)" font-size="46" font-weight="bold" fill="#FFC466" clip-path="url(#c5)"><tspan dx="0.7">1</tspan><tspan dx="-0.7">70 °C</tspan></text><path d="M 241.5 204.3 H 344" stroke="#45AFD0" stroke-width="4.9" stroke-linecap="round"/><circle cx="293.1" cy="204.3" r="12.4" fill="url(#gAcya)"/><text transform="translate(371,219.6) scale(1,1.04)" font-size="46" font-weight="bold" fill="#45AFD0" clip-path="url(#c6)"><tspan dx="0.7">1</tspan><tspan dx="-0.7">80 °C</tspan></text><path d="M 241.5 262.6 H 344" stroke="#6666C4" stroke-width="4.9" stroke-linecap="round"/><circle cx="293.1" cy="262.6" r="12.4" fill="url(#gApur)"/><text transform="translate(371,277.9) scale(1,1.04)" font-size="46" font-weight="bold" fill="#6666C4" clip-path="url(#c7)"><tspan dx="0.7">1</tspan><tspan dx="-0.7">90 °C</tspan></text>
<path d="M 2125.5 596 H 2229.5" stroke="#F25F63" stroke-width="4.9" stroke-linecap="round"/><circle cx="2177.3" cy="596.0" r="12.4" fill="url(#gBred)"/><text transform="translate(2243,611.3) scale(1,1.04)" font-size="46" font-weight="bold" fill="#F25F63" clip-path="url(#c8)"><tspan dx="0.7">1</tspan><tspan dx="-0.7">60 °C</tspan></text><path d="M 2125.5 655 H 2229.5" stroke="#FFA33A" stroke-width="4.9" stroke-linecap="round"/><circle cx="2177.3" cy="655.0" r="12.4" fill="url(#gByel)"/><text transform="translate(2243,670.3) scale(1,1.04)" font-size="46" font-weight="bold" fill="#FFA33A" clip-path="url(#c9)"><tspan dx="0.7">1</tspan><tspan dx="-0.7">70 °C</tspan></text><path d="M 2125.5 713.8 H 2229.5" stroke="#45AFD0" stroke-width="4.9" stroke-linecap="round"/><circle cx="2177.3" cy="713.8" r="12.4" fill="url(#gBcya)"/><text transform="translate(2243,729.1) scale(1,1.04)" font-size="46" font-weight="bold" fill="#45AFD0" clip-path="url(#c10)"><tspan dx="0.7">1</tspan><tspan dx="-0.7">80 °C</tspan></text><path d="M 2125.5 772.8 H 2229.5" stroke="#6666C4" stroke-width="4.9" stroke-linecap="round"/><circle cx="2177.3" cy="772.8" r="12.4" fill="url(#gBpur)"/><text transform="translate(2243,788.1) scale(1,1.04)" font-size="46" font-weight="bold" fill="#6666C4" clip-path="url(#c11)"><tspan dx="0.7">1</tspan><tspan dx="-0.7">90 °C</tspan></text>
<defs><clipPath id="c0"><path clip-rule="evenodd" d="M -400 -200 H 600 V 100 H -400 Z M 3.08 -4.41 H 13.32 V 3 H 3.08 Z M 17.47 -4.41 H 27.34 V 3 H 17.47 Z"/></clipPath><clipPath id="c1"><path clip-rule="evenodd" d="M -400 -200 H 600 V 100 H -400 Z M 3.08 -4.41 H 13.32 V 3 H 3.08 Z M 17.47 -4.41 H 27.34 V 3 H 17.47 Z"/></clipPath><clipPath id="c2"><path clip-rule="evenodd" d="M -400 -200 H 600 V 100 H -400 Z M 3.08 -4.41 H 13.32 V 3 H 3.08 Z M 17.47 -4.41 H 27.34 V 3 H 17.47 Z"/></clipPath><clipPath id="c3"><path clip-rule="evenodd" d="M -400 -200 H 600 V 100 H -400 Z M 3.08 -4.41 H 13.32 V 3 H 3.08 Z M 17.47 -4.41 H 27.34 V 3 H 17.47 Z"/></clipPath><clipPath id="c4"><path clip-rule="evenodd" d="M -400 -200 H 600 V 100 H -400 Z M 1.60 -5.29 H 11.44 V 3 H 1.60 Z M 17.75 -5.29 H 27.00 V 3 H 17.75 Z"/></clipPath><clipPath id="c5"><path clip-rule="evenodd" d="M -400 -200 H 600 V 100 H -400 Z M 1.60 -5.29 H 11.44 V 3 H 1.60 Z M 17.75 -5.29 H 27.00 V 3 H 17.75 Z"/></clipPath><clipPath id="c6"><path clip-rule="evenodd" d="M -400 -200 H 600 V 100 H -400 Z M 1.60 -5.29 H 11.44 V 3 H 1.60 Z M 17.75 -5.29 H 27.00 V 3 H 17.75 Z"/></clipPath><clipPath id="c7"><path clip-rule="evenodd" d="M -400 -200 H 600 V 100 H -400 Z M 1.60 -5.29 H 11.44 V 3 H 1.60 Z M 17.75 -5.29 H 27.00 V 3 H 17.75 Z"/></clipPath><clipPath id="c8"><path clip-rule="evenodd" d="M -400 -200 H 600 V 100 H -400 Z M 1.60 -5.29 H 11.44 V 3 H 1.60 Z M 17.75 -5.29 H 27.00 V 3 H 17.75 Z"/></clipPath><clipPath id="c9"><path clip-rule="evenodd" d="M -400 -200 H 600 V 100 H -400 Z M 1.60 -5.29 H 11.44 V 3 H 1.60 Z M 17.75 -5.29 H 27.00 V 3 H 17.75 Z"/></clipPath><clipPath id="c10"><path clip-rule="evenodd" d="M -400 -200 H 600 V 100 H -400 Z M 1.60 -5.29 H 11.44 V 3 H 1.60 Z M 17.75 -5.29 H 27.00 V 3 H 17.75 Z"/></clipPath><clipPath id="c11"><path clip-rule="evenodd" d="M -400 -200 H 600 V 100 H -400 Z M 1.60 -5.29 H 11.44 V 3 H 1.60 Z M 17.75 -5.29 H 27.00 V 3 H 17.75 Z"/></clipPath></defs>
</g></svg></div></body></html>
